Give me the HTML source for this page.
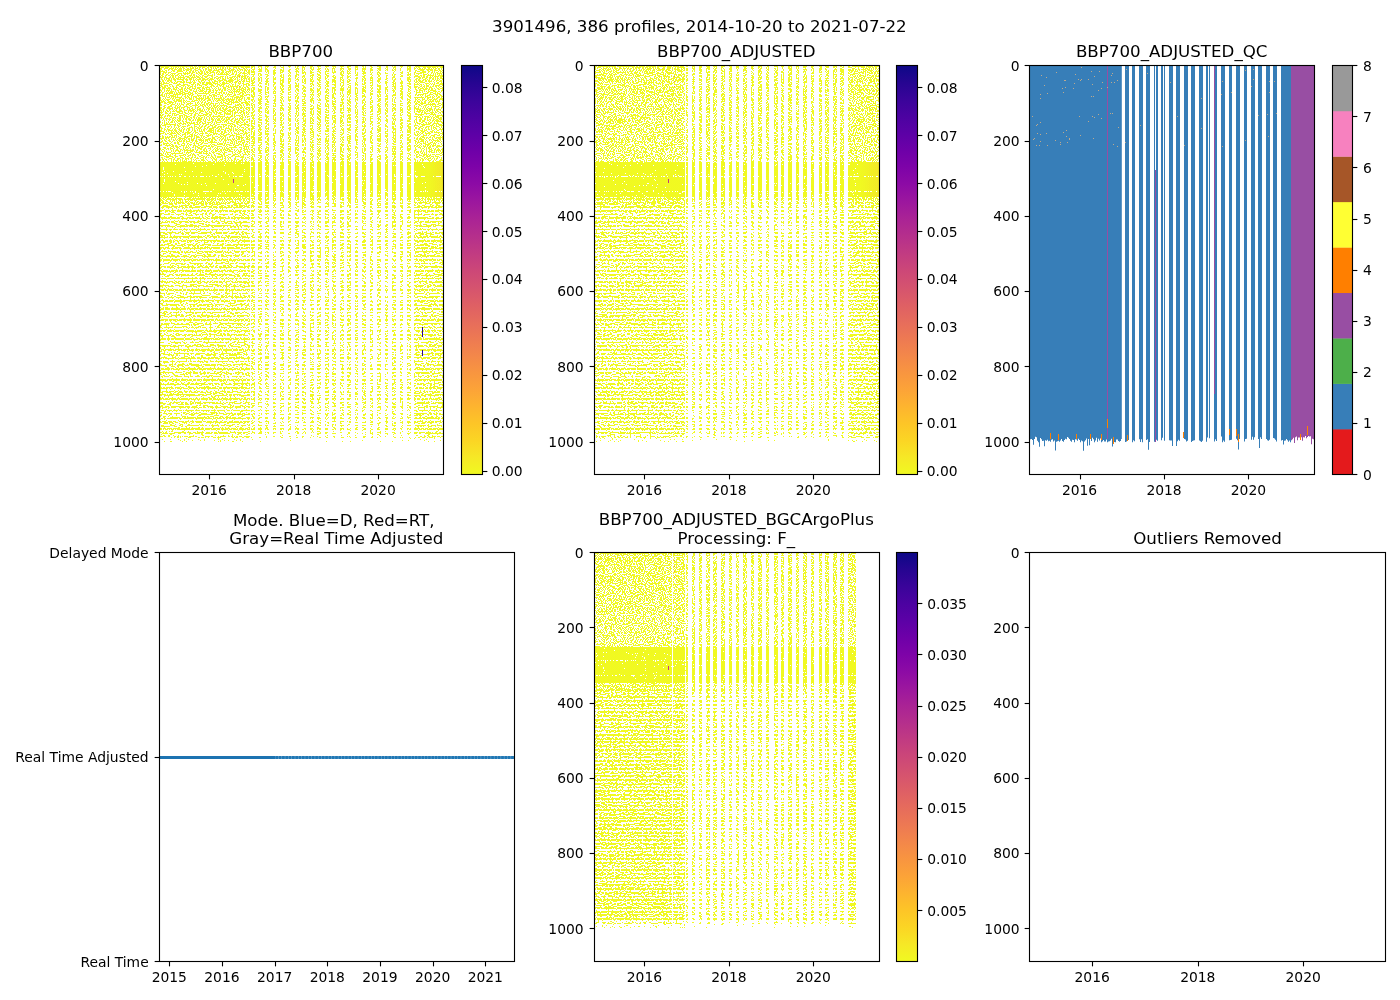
<!DOCTYPE html><html><head><meta charset="utf-8"><title>3901496 BBP700</title><style>html,body{margin:0;padding:0;background:#fff;}svg{display:block;}text{font-family:"DejaVu Sans","Liberation Sans",sans-serif;fill:#000;}</style></head><body>
<svg width="1400" height="1000" viewBox="0 0 1400 1000">
<defs>
<linearGradient id="plasma" x1="0" y1="1" x2="0" y2="0"><stop offset="0.0000" stop-color="#f0f921"/><stop offset="0.0417" stop-color="#f6e826"/><stop offset="0.0833" stop-color="#fbd524"/><stop offset="0.1250" stop-color="#fdc527"/><stop offset="0.1667" stop-color="#fdb42f"/><stop offset="0.2083" stop-color="#fca338"/><stop offset="0.2500" stop-color="#f89540"/><stop offset="0.2917" stop-color="#f3874a"/><stop offset="0.3333" stop-color="#ed7953"/><stop offset="0.3750" stop-color="#e66c5c"/><stop offset="0.4167" stop-color="#de5f65"/><stop offset="0.4583" stop-color="#d5536f"/><stop offset="0.5000" stop-color="#cc4778"/><stop offset="0.5417" stop-color="#c13b82"/><stop offset="0.5833" stop-color="#b52f8c"/><stop offset="0.6250" stop-color="#aa2395"/><stop offset="0.6667" stop-color="#9c179e"/><stop offset="0.7083" stop-color="#8d0ba5"/><stop offset="0.7500" stop-color="#7e03a8"/><stop offset="0.7917" stop-color="#6e00a8"/><stop offset="0.8333" stop-color="#5c01a6"/><stop offset="0.8750" stop-color="#4c02a1"/><stop offset="0.9167" stop-color="#3a049a"/><stop offset="0.9583" stop-color="#260591"/><stop offset="1.0000" stop-color="#0d0887"/></linearGradient>
<filter id="dots" x="0" y="0" width="1400" height="1000" filterUnits="userSpaceOnUse" color-interpolation-filters="sRGB"><feTurbulence type="fractalNoise" baseFrequency="0.9" numOctaves="1" seed="3" result="t"/><feColorMatrix in="t" type="matrix" values="0 0 0 0 0  0 0 0 0 0  0 0 0 0 0  0 0 0 1 0" result="u"/><feComposite in="SourceAlpha" in2="u" operator="arithmetic" k1="0" k2="255" k3="-255" k4="0" result="m"/><feColorMatrix in="SourceGraphic" type="matrix" values="1 0 0 0 0  0 1 0 0 0  0 0 1 0 0  0 0 0 0 1" result="c"/><feComposite in="c" in2="m" operator="in"/></filter><filter id="dots2" x="0" y="0" width="1400" height="1000" filterUnits="userSpaceOnUse" color-interpolation-filters="sRGB"><feTurbulence type="fractalNoise" baseFrequency="0.5 0.9" numOctaves="1" seed="5" result="t"/><feColorMatrix in="t" type="matrix" values="0 0 0 0 0  0 0 0 0 0  0 0 0 0 0  0 0 0 1 0" result="u"/><feComposite in="SourceAlpha" in2="u" operator="arithmetic" k1="0" k2="255" k3="-255" k4="0" result="m"/><feColorMatrix in="SourceGraphic" type="matrix" values="1 0 0 0 0  0 1 0 0 0  0 0 1 0 0  0 0 0 0 1" result="c"/><feComposite in="c" in2="m" operator="in"/></filter><linearGradient id="gB1" gradientUnits="userSpaceOnUse" x1="0" y1="65.5" x2="0" y2="474.5"><stop offset="0.0000" stop-color="#f0f921" stop-opacity="0.657"/><stop offset="0.0037" stop-color="#f0f921" stop-opacity="0.657"/><stop offset="0.0037" stop-color="#f0f921" stop-opacity="0.524"/><stop offset="0.2311" stop-color="#f0f921" stop-opacity="0.499"/><stop offset="0.2311" stop-color="#f0f921" stop-opacity="0.496"/><stop offset="0.2359" stop-color="#f0f921" stop-opacity="0.496"/><stop offset="0.2359" stop-color="#f0f921" stop-opacity="0.711"/><stop offset="0.2702" stop-color="#f0f921" stop-opacity="0.711"/><stop offset="0.2702" stop-color="#f0f921" stop-opacity="0.536"/><stop offset="0.2726" stop-color="#f0f921" stop-opacity="0.536"/><stop offset="0.2726" stop-color="#f0f921" stop-opacity="0.711"/><stop offset="0.3068" stop-color="#f0f921" stop-opacity="0.711"/><stop offset="0.3068" stop-color="#f0f921" stop-opacity="0.536"/><stop offset="0.3093" stop-color="#f0f921" stop-opacity="0.536"/><stop offset="0.3093" stop-color="#f0f921" stop-opacity="0.711"/><stop offset="0.3215" stop-color="#f0f921" stop-opacity="0.711"/><stop offset="0.3215" stop-color="#f0f921" stop-opacity="0.496"/><stop offset="0.3251" stop-color="#f0f921" stop-opacity="0.496"/><stop offset="0.3251" stop-color="#f0f921" stop-opacity="0.572"/><stop offset="0.3295" stop-color="#f0f921" stop-opacity="0.572"/><stop offset="0.3295" stop-color="#f0f921" stop-opacity="0.496"/><stop offset="0.3343" stop-color="#f0f921" stop-opacity="0.496"/><stop offset="0.3343" stop-color="#f0f921" stop-opacity="0.571"/><stop offset="0.3387" stop-color="#f0f921" stop-opacity="0.571"/><stop offset="0.3387" stop-color="#f0f921" stop-opacity="0.496"/><stop offset="0.3435" stop-color="#f0f921" stop-opacity="0.496"/><stop offset="0.3435" stop-color="#f0f921" stop-opacity="0.571"/><stop offset="0.3479" stop-color="#f0f921" stop-opacity="0.571"/><stop offset="0.3479" stop-color="#f0f921" stop-opacity="0.419"/><stop offset="0.3527" stop-color="#f0f921" stop-opacity="0.419"/><stop offset="0.3527" stop-color="#f0f921" stop-opacity="0.564"/><stop offset="0.3571" stop-color="#f0f921" stop-opacity="0.564"/><stop offset="0.3571" stop-color="#f0f921" stop-opacity="0.419"/><stop offset="0.3619" stop-color="#f0f921" stop-opacity="0.419"/><stop offset="0.3619" stop-color="#f0f921" stop-opacity="0.564"/><stop offset="0.3663" stop-color="#f0f921" stop-opacity="0.564"/><stop offset="0.3663" stop-color="#f0f921" stop-opacity="0.418"/><stop offset="0.3711" stop-color="#f0f921" stop-opacity="0.418"/><stop offset="0.3711" stop-color="#f0f921" stop-opacity="0.564"/><stop offset="0.3756" stop-color="#f0f921" stop-opacity="0.564"/><stop offset="0.3756" stop-color="#f0f921" stop-opacity="0.418"/><stop offset="0.3804" stop-color="#f0f921" stop-opacity="0.418"/><stop offset="0.3804" stop-color="#f0f921" stop-opacity="0.564"/><stop offset="0.3848" stop-color="#f0f921" stop-opacity="0.564"/><stop offset="0.3848" stop-color="#f0f921" stop-opacity="0.418"/><stop offset="0.3896" stop-color="#f0f921" stop-opacity="0.418"/><stop offset="0.3896" stop-color="#f0f921" stop-opacity="0.563"/><stop offset="0.3940" stop-color="#f0f921" stop-opacity="0.563"/><stop offset="0.3940" stop-color="#f0f921" stop-opacity="0.418"/><stop offset="0.3988" stop-color="#f0f921" stop-opacity="0.418"/><stop offset="0.3988" stop-color="#f0f921" stop-opacity="0.563"/><stop offset="0.4032" stop-color="#f0f921" stop-opacity="0.563"/><stop offset="0.4032" stop-color="#f0f921" stop-opacity="0.418"/><stop offset="0.4080" stop-color="#f0f921" stop-opacity="0.418"/><stop offset="0.4080" stop-color="#f0f921" stop-opacity="0.563"/><stop offset="0.4124" stop-color="#f0f921" stop-opacity="0.563"/><stop offset="0.4124" stop-color="#f0f921" stop-opacity="0.418"/><stop offset="0.4172" stop-color="#f0f921" stop-opacity="0.418"/><stop offset="0.4172" stop-color="#f0f921" stop-opacity="0.563"/><stop offset="0.4216" stop-color="#f0f921" stop-opacity="0.563"/><stop offset="0.4216" stop-color="#f0f921" stop-opacity="0.418"/><stop offset="0.4265" stop-color="#f0f921" stop-opacity="0.418"/><stop offset="0.4265" stop-color="#f0f921" stop-opacity="0.563"/><stop offset="0.4309" stop-color="#f0f921" stop-opacity="0.563"/><stop offset="0.4309" stop-color="#f0f921" stop-opacity="0.418"/><stop offset="0.4357" stop-color="#f0f921" stop-opacity="0.418"/><stop offset="0.4357" stop-color="#f0f921" stop-opacity="0.562"/><stop offset="0.4401" stop-color="#f0f921" stop-opacity="0.562"/><stop offset="0.4401" stop-color="#f0f921" stop-opacity="0.418"/><stop offset="0.4449" stop-color="#f0f921" stop-opacity="0.418"/><stop offset="0.4449" stop-color="#f0f921" stop-opacity="0.562"/><stop offset="0.4493" stop-color="#f0f921" stop-opacity="0.562"/><stop offset="0.4493" stop-color="#f0f921" stop-opacity="0.418"/><stop offset="0.4541" stop-color="#f0f921" stop-opacity="0.418"/><stop offset="0.4541" stop-color="#f0f921" stop-opacity="0.562"/><stop offset="0.4585" stop-color="#f0f921" stop-opacity="0.562"/><stop offset="0.4585" stop-color="#f0f921" stop-opacity="0.418"/><stop offset="0.4633" stop-color="#f0f921" stop-opacity="0.418"/><stop offset="0.4633" stop-color="#f0f921" stop-opacity="0.562"/><stop offset="0.4677" stop-color="#f0f921" stop-opacity="0.562"/><stop offset="0.4677" stop-color="#f0f921" stop-opacity="0.418"/><stop offset="0.4725" stop-color="#f0f921" stop-opacity="0.418"/><stop offset="0.4725" stop-color="#f0f921" stop-opacity="0.562"/><stop offset="0.4769" stop-color="#f0f921" stop-opacity="0.562"/><stop offset="0.4769" stop-color="#f0f921" stop-opacity="0.417"/><stop offset="0.4818" stop-color="#f0f921" stop-opacity="0.417"/><stop offset="0.4818" stop-color="#f0f921" stop-opacity="0.561"/><stop offset="0.4862" stop-color="#f0f921" stop-opacity="0.561"/><stop offset="0.4862" stop-color="#f0f921" stop-opacity="0.417"/><stop offset="0.4910" stop-color="#f0f921" stop-opacity="0.417"/><stop offset="0.4910" stop-color="#f0f921" stop-opacity="0.561"/><stop offset="0.4954" stop-color="#f0f921" stop-opacity="0.561"/><stop offset="0.4954" stop-color="#f0f921" stop-opacity="0.417"/><stop offset="0.5002" stop-color="#f0f921" stop-opacity="0.417"/><stop offset="0.5002" stop-color="#f0f921" stop-opacity="0.561"/><stop offset="0.5046" stop-color="#f0f921" stop-opacity="0.561"/><stop offset="0.5046" stop-color="#f0f921" stop-opacity="0.417"/><stop offset="0.5094" stop-color="#f0f921" stop-opacity="0.417"/><stop offset="0.5094" stop-color="#f0f921" stop-opacity="0.561"/><stop offset="0.5138" stop-color="#f0f921" stop-opacity="0.561"/><stop offset="0.5138" stop-color="#f0f921" stop-opacity="0.417"/><stop offset="0.5186" stop-color="#f0f921" stop-opacity="0.417"/><stop offset="0.5186" stop-color="#f0f921" stop-opacity="0.561"/><stop offset="0.5230" stop-color="#f0f921" stop-opacity="0.561"/><stop offset="0.5230" stop-color="#f0f921" stop-opacity="0.417"/><stop offset="0.5278" stop-color="#f0f921" stop-opacity="0.417"/><stop offset="0.5278" stop-color="#f0f921" stop-opacity="0.561"/><stop offset="0.5322" stop-color="#f0f921" stop-opacity="0.561"/><stop offset="0.5322" stop-color="#f0f921" stop-opacity="0.417"/><stop offset="0.5371" stop-color="#f0f921" stop-opacity="0.417"/><stop offset="0.5371" stop-color="#f0f921" stop-opacity="0.560"/><stop offset="0.5415" stop-color="#f0f921" stop-opacity="0.560"/><stop offset="0.5415" stop-color="#f0f921" stop-opacity="0.417"/><stop offset="0.5463" stop-color="#f0f921" stop-opacity="0.417"/><stop offset="0.5463" stop-color="#f0f921" stop-opacity="0.560"/><stop offset="0.5507" stop-color="#f0f921" stop-opacity="0.560"/><stop offset="0.5507" stop-color="#f0f921" stop-opacity="0.417"/><stop offset="0.5555" stop-color="#f0f921" stop-opacity="0.417"/><stop offset="0.5555" stop-color="#f0f921" stop-opacity="0.560"/><stop offset="0.5599" stop-color="#f0f921" stop-opacity="0.560"/><stop offset="0.5599" stop-color="#f0f921" stop-opacity="0.417"/><stop offset="0.5647" stop-color="#f0f921" stop-opacity="0.417"/><stop offset="0.5647" stop-color="#f0f921" stop-opacity="0.560"/><stop offset="0.5691" stop-color="#f0f921" stop-opacity="0.560"/><stop offset="0.5691" stop-color="#f0f921" stop-opacity="0.417"/><stop offset="0.5739" stop-color="#f0f921" stop-opacity="0.417"/><stop offset="0.5739" stop-color="#f0f921" stop-opacity="0.560"/><stop offset="0.5783" stop-color="#f0f921" stop-opacity="0.560"/><stop offset="0.5783" stop-color="#f0f921" stop-opacity="0.416"/><stop offset="0.5832" stop-color="#f0f921" stop-opacity="0.416"/><stop offset="0.5832" stop-color="#f0f921" stop-opacity="0.560"/><stop offset="0.5876" stop-color="#f0f921" stop-opacity="0.560"/><stop offset="0.5876" stop-color="#f0f921" stop-opacity="0.416"/><stop offset="0.5924" stop-color="#f0f921" stop-opacity="0.416"/><stop offset="0.5924" stop-color="#f0f921" stop-opacity="0.559"/><stop offset="0.5968" stop-color="#f0f921" stop-opacity="0.559"/><stop offset="0.5968" stop-color="#f0f921" stop-opacity="0.416"/><stop offset="0.6016" stop-color="#f0f921" stop-opacity="0.416"/><stop offset="0.6016" stop-color="#f0f921" stop-opacity="0.559"/><stop offset="0.6060" stop-color="#f0f921" stop-opacity="0.559"/><stop offset="0.6060" stop-color="#f0f921" stop-opacity="0.416"/><stop offset="0.6108" stop-color="#f0f921" stop-opacity="0.416"/><stop offset="0.6108" stop-color="#f0f921" stop-opacity="0.559"/><stop offset="0.6152" stop-color="#f0f921" stop-opacity="0.559"/><stop offset="0.6152" stop-color="#f0f921" stop-opacity="0.416"/><stop offset="0.6200" stop-color="#f0f921" stop-opacity="0.416"/><stop offset="0.6200" stop-color="#f0f921" stop-opacity="0.559"/><stop offset="0.6244" stop-color="#f0f921" stop-opacity="0.559"/><stop offset="0.6244" stop-color="#f0f921" stop-opacity="0.416"/><stop offset="0.6292" stop-color="#f0f921" stop-opacity="0.416"/><stop offset="0.6292" stop-color="#f0f921" stop-opacity="0.559"/><stop offset="0.6336" stop-color="#f0f921" stop-opacity="0.559"/><stop offset="0.6336" stop-color="#f0f921" stop-opacity="0.416"/><stop offset="0.6385" stop-color="#f0f921" stop-opacity="0.416"/><stop offset="0.6385" stop-color="#f0f921" stop-opacity="0.559"/><stop offset="0.6429" stop-color="#f0f921" stop-opacity="0.559"/><stop offset="0.6429" stop-color="#f0f921" stop-opacity="0.416"/><stop offset="0.6477" stop-color="#f0f921" stop-opacity="0.416"/><stop offset="0.6477" stop-color="#f0f921" stop-opacity="0.558"/><stop offset="0.6521" stop-color="#f0f921" stop-opacity="0.558"/><stop offset="0.6521" stop-color="#f0f921" stop-opacity="0.416"/><stop offset="0.6569" stop-color="#f0f921" stop-opacity="0.416"/><stop offset="0.6569" stop-color="#f0f921" stop-opacity="0.558"/><stop offset="0.6613" stop-color="#f0f921" stop-opacity="0.558"/><stop offset="0.6613" stop-color="#f0f921" stop-opacity="0.416"/><stop offset="0.6661" stop-color="#f0f921" stop-opacity="0.416"/><stop offset="0.6661" stop-color="#f0f921" stop-opacity="0.558"/><stop offset="0.6705" stop-color="#f0f921" stop-opacity="0.558"/><stop offset="0.6705" stop-color="#f0f921" stop-opacity="0.416"/><stop offset="0.6753" stop-color="#f0f921" stop-opacity="0.416"/><stop offset="0.6753" stop-color="#f0f921" stop-opacity="0.558"/><stop offset="0.6797" stop-color="#f0f921" stop-opacity="0.558"/><stop offset="0.6797" stop-color="#f0f921" stop-opacity="0.416"/><stop offset="0.6845" stop-color="#f0f921" stop-opacity="0.416"/><stop offset="0.6845" stop-color="#f0f921" stop-opacity="0.558"/><stop offset="0.6889" stop-color="#f0f921" stop-opacity="0.558"/><stop offset="0.6889" stop-color="#f0f921" stop-opacity="0.415"/><stop offset="0.6938" stop-color="#f0f921" stop-opacity="0.415"/><stop offset="0.6938" stop-color="#f0f921" stop-opacity="0.558"/><stop offset="0.6982" stop-color="#f0f921" stop-opacity="0.558"/><stop offset="0.6982" stop-color="#f0f921" stop-opacity="0.415"/><stop offset="0.7030" stop-color="#f0f921" stop-opacity="0.415"/><stop offset="0.7030" stop-color="#f0f921" stop-opacity="0.558"/><stop offset="0.7074" stop-color="#f0f921" stop-opacity="0.558"/><stop offset="0.7074" stop-color="#f0f921" stop-opacity="0.415"/><stop offset="0.7122" stop-color="#f0f921" stop-opacity="0.415"/><stop offset="0.7122" stop-color="#f0f921" stop-opacity="0.557"/><stop offset="0.7166" stop-color="#f0f921" stop-opacity="0.557"/><stop offset="0.7166" stop-color="#f0f921" stop-opacity="0.415"/><stop offset="0.7214" stop-color="#f0f921" stop-opacity="0.415"/><stop offset="0.7214" stop-color="#f0f921" stop-opacity="0.557"/><stop offset="0.7258" stop-color="#f0f921" stop-opacity="0.557"/><stop offset="0.7258" stop-color="#f0f921" stop-opacity="0.415"/><stop offset="0.7306" stop-color="#f0f921" stop-opacity="0.415"/><stop offset="0.7306" stop-color="#f0f921" stop-opacity="0.557"/><stop offset="0.7350" stop-color="#f0f921" stop-opacity="0.557"/><stop offset="0.7350" stop-color="#f0f921" stop-opacity="0.415"/><stop offset="0.7399" stop-color="#f0f921" stop-opacity="0.415"/><stop offset="0.7399" stop-color="#f0f921" stop-opacity="0.557"/><stop offset="0.7443" stop-color="#f0f921" stop-opacity="0.557"/><stop offset="0.7443" stop-color="#f0f921" stop-opacity="0.415"/><stop offset="0.7491" stop-color="#f0f921" stop-opacity="0.415"/><stop offset="0.7491" stop-color="#f0f921" stop-opacity="0.557"/><stop offset="0.7535" stop-color="#f0f921" stop-opacity="0.557"/><stop offset="0.7535" stop-color="#f0f921" stop-opacity="0.415"/><stop offset="0.7583" stop-color="#f0f921" stop-opacity="0.415"/><stop offset="0.7583" stop-color="#f0f921" stop-opacity="0.557"/><stop offset="0.7627" stop-color="#f0f921" stop-opacity="0.557"/><stop offset="0.7627" stop-color="#f0f921" stop-opacity="0.415"/><stop offset="0.7675" stop-color="#f0f921" stop-opacity="0.415"/><stop offset="0.7675" stop-color="#f0f921" stop-opacity="0.557"/><stop offset="0.7719" stop-color="#f0f921" stop-opacity="0.557"/><stop offset="0.7719" stop-color="#f0f921" stop-opacity="0.415"/><stop offset="0.7767" stop-color="#f0f921" stop-opacity="0.415"/><stop offset="0.7767" stop-color="#f0f921" stop-opacity="0.556"/><stop offset="0.7811" stop-color="#f0f921" stop-opacity="0.556"/><stop offset="0.7811" stop-color="#f0f921" stop-opacity="0.415"/><stop offset="0.7859" stop-color="#f0f921" stop-opacity="0.415"/><stop offset="0.7859" stop-color="#f0f921" stop-opacity="0.556"/><stop offset="0.7903" stop-color="#f0f921" stop-opacity="0.556"/><stop offset="0.7903" stop-color="#f0f921" stop-opacity="0.415"/><stop offset="0.7952" stop-color="#f0f921" stop-opacity="0.415"/><stop offset="0.7952" stop-color="#f0f921" stop-opacity="0.556"/><stop offset="0.7996" stop-color="#f0f921" stop-opacity="0.556"/><stop offset="0.7996" stop-color="#f0f921" stop-opacity="0.414"/><stop offset="0.8044" stop-color="#f0f921" stop-opacity="0.414"/><stop offset="0.8044" stop-color="#f0f921" stop-opacity="0.556"/><stop offset="0.8088" stop-color="#f0f921" stop-opacity="0.556"/><stop offset="0.8088" stop-color="#f0f921" stop-opacity="0.414"/><stop offset="0.8136" stop-color="#f0f921" stop-opacity="0.414"/><stop offset="0.8136" stop-color="#f0f921" stop-opacity="0.556"/><stop offset="0.8180" stop-color="#f0f921" stop-opacity="0.556"/><stop offset="0.8180" stop-color="#f0f921" stop-opacity="0.414"/><stop offset="0.8228" stop-color="#f0f921" stop-opacity="0.414"/><stop offset="0.8228" stop-color="#f0f921" stop-opacity="0.556"/><stop offset="0.8272" stop-color="#f0f921" stop-opacity="0.556"/><stop offset="0.8272" stop-color="#f0f921" stop-opacity="0.414"/><stop offset="0.8320" stop-color="#f0f921" stop-opacity="0.414"/><stop offset="0.8320" stop-color="#f0f921" stop-opacity="0.556"/><stop offset="0.8364" stop-color="#f0f921" stop-opacity="0.556"/><stop offset="0.8364" stop-color="#f0f921" stop-opacity="0.414"/><stop offset="0.8412" stop-color="#f0f921" stop-opacity="0.414"/><stop offset="0.8412" stop-color="#f0f921" stop-opacity="0.555"/><stop offset="0.8456" stop-color="#f0f921" stop-opacity="0.555"/><stop offset="0.8456" stop-color="#f0f921" stop-opacity="0.414"/><stop offset="0.8505" stop-color="#f0f921" stop-opacity="0.414"/><stop offset="0.8505" stop-color="#f0f921" stop-opacity="0.555"/><stop offset="0.8549" stop-color="#f0f921" stop-opacity="0.555"/><stop offset="0.8549" stop-color="#f0f921" stop-opacity="0.414"/><stop offset="0.8597" stop-color="#f0f921" stop-opacity="0.414"/><stop offset="0.8597" stop-color="#f0f921" stop-opacity="0.555"/><stop offset="0.8641" stop-color="#f0f921" stop-opacity="0.555"/><stop offset="0.8641" stop-color="#f0f921" stop-opacity="0.414"/><stop offset="0.8689" stop-color="#f0f921" stop-opacity="0.414"/><stop offset="0.8689" stop-color="#f0f921" stop-opacity="0.555"/><stop offset="0.8733" stop-color="#f0f921" stop-opacity="0.555"/><stop offset="0.8733" stop-color="#f0f921" stop-opacity="0.414"/><stop offset="0.8781" stop-color="#f0f921" stop-opacity="0.414"/><stop offset="0.8781" stop-color="#f0f921" stop-opacity="0.555"/><stop offset="0.8825" stop-color="#f0f921" stop-opacity="0.555"/><stop offset="0.8825" stop-color="#f0f921" stop-opacity="0.414"/><stop offset="0.8873" stop-color="#f0f921" stop-opacity="0.414"/><stop offset="0.8873" stop-color="#f0f921" stop-opacity="0.555"/><stop offset="0.8917" stop-color="#f0f921" stop-opacity="0.555"/><stop offset="0.8917" stop-color="#f0f921" stop-opacity="0.414"/><stop offset="0.8966" stop-color="#f0f921" stop-opacity="0.414"/><stop offset="0.8966" stop-color="#f0f921" stop-opacity="0.555"/><stop offset="0.9010" stop-color="#f0f921" stop-opacity="0.555"/><stop offset="0.9010" stop-color="#f0f921" stop-opacity="0.375"/><stop offset="0.9058" stop-color="#f0f921" stop-opacity="0.375"/><stop offset="0.9058" stop-color="#f0f921" stop-opacity="0.486"/><stop offset="0.9102" stop-color="#f0f921" stop-opacity="0.486"/><stop offset="0.9102" stop-color="#f0f921" stop-opacity="0.314"/><stop offset="0.9150" stop-color="#f0f921" stop-opacity="0.314"/><stop offset="0.9150" stop-color="#f0f921" stop-opacity="0.382"/><stop offset="0.9194" stop-color="#f0f921" stop-opacity="0.382"/><stop offset="0.9194" stop-color="#f0f921" stop-opacity="0.000"/><stop offset="0.9196" stop-color="#f0f921" stop-opacity="0.000"/></linearGradient><linearGradient id="gS1" gradientUnits="userSpaceOnUse" x1="0" y1="65.5" x2="0" y2="474.5"><stop offset="0.0000" stop-color="#f0f921" stop-opacity="0.657"/><stop offset="0.0037" stop-color="#f0f921" stop-opacity="0.657"/><stop offset="0.0037" stop-color="#f0f921" stop-opacity="0.536"/><stop offset="0.2311" stop-color="#f0f921" stop-opacity="0.536"/><stop offset="0.2311" stop-color="#f0f921" stop-opacity="0.496"/><stop offset="0.2359" stop-color="#f0f921" stop-opacity="0.496"/><stop offset="0.2359" stop-color="#f0f921" stop-opacity="0.692"/><stop offset="0.2702" stop-color="#f0f921" stop-opacity="0.692"/><stop offset="0.2702" stop-color="#f0f921" stop-opacity="0.536"/><stop offset="0.2726" stop-color="#f0f921" stop-opacity="0.536"/><stop offset="0.2726" stop-color="#f0f921" stop-opacity="0.692"/><stop offset="0.3068" stop-color="#f0f921" stop-opacity="0.692"/><stop offset="0.3068" stop-color="#f0f921" stop-opacity="0.536"/><stop offset="0.3093" stop-color="#f0f921" stop-opacity="0.536"/><stop offset="0.3093" stop-color="#f0f921" stop-opacity="0.692"/><stop offset="0.3215" stop-color="#f0f921" stop-opacity="0.692"/><stop offset="0.3215" stop-color="#f0f921" stop-opacity="0.496"/><stop offset="0.3251" stop-color="#f0f921" stop-opacity="0.496"/><stop offset="0.3251" stop-color="#f0f921" stop-opacity="0.572"/><stop offset="0.3295" stop-color="#f0f921" stop-opacity="0.572"/><stop offset="0.3295" stop-color="#f0f921" stop-opacity="0.496"/><stop offset="0.3343" stop-color="#f0f921" stop-opacity="0.496"/><stop offset="0.3343" stop-color="#f0f921" stop-opacity="0.571"/><stop offset="0.3387" stop-color="#f0f921" stop-opacity="0.571"/><stop offset="0.3387" stop-color="#f0f921" stop-opacity="0.495"/><stop offset="0.3435" stop-color="#f0f921" stop-opacity="0.495"/><stop offset="0.3435" stop-color="#f0f921" stop-opacity="0.571"/><stop offset="0.3479" stop-color="#f0f921" stop-opacity="0.571"/><stop offset="0.3479" stop-color="#f0f921" stop-opacity="0.426"/><stop offset="0.3527" stop-color="#f0f921" stop-opacity="0.426"/><stop offset="0.3527" stop-color="#f0f921" stop-opacity="0.563"/><stop offset="0.3571" stop-color="#f0f921" stop-opacity="0.563"/><stop offset="0.3571" stop-color="#f0f921" stop-opacity="0.426"/><stop offset="0.3619" stop-color="#f0f921" stop-opacity="0.426"/><stop offset="0.3619" stop-color="#f0f921" stop-opacity="0.562"/><stop offset="0.3663" stop-color="#f0f921" stop-opacity="0.562"/><stop offset="0.3663" stop-color="#f0f921" stop-opacity="0.426"/><stop offset="0.3711" stop-color="#f0f921" stop-opacity="0.426"/><stop offset="0.3711" stop-color="#f0f921" stop-opacity="0.562"/><stop offset="0.3756" stop-color="#f0f921" stop-opacity="0.562"/><stop offset="0.3756" stop-color="#f0f921" stop-opacity="0.426"/><stop offset="0.3804" stop-color="#f0f921" stop-opacity="0.426"/><stop offset="0.3804" stop-color="#f0f921" stop-opacity="0.561"/><stop offset="0.3848" stop-color="#f0f921" stop-opacity="0.561"/><stop offset="0.3848" stop-color="#f0f921" stop-opacity="0.425"/><stop offset="0.3896" stop-color="#f0f921" stop-opacity="0.425"/><stop offset="0.3896" stop-color="#f0f921" stop-opacity="0.561"/><stop offset="0.3940" stop-color="#f0f921" stop-opacity="0.561"/><stop offset="0.3940" stop-color="#f0f921" stop-opacity="0.425"/><stop offset="0.3988" stop-color="#f0f921" stop-opacity="0.425"/><stop offset="0.3988" stop-color="#f0f921" stop-opacity="0.560"/><stop offset="0.4032" stop-color="#f0f921" stop-opacity="0.560"/><stop offset="0.4032" stop-color="#f0f921" stop-opacity="0.425"/><stop offset="0.4080" stop-color="#f0f921" stop-opacity="0.425"/><stop offset="0.4080" stop-color="#f0f921" stop-opacity="0.560"/><stop offset="0.4124" stop-color="#f0f921" stop-opacity="0.560"/><stop offset="0.4124" stop-color="#f0f921" stop-opacity="0.425"/><stop offset="0.4172" stop-color="#f0f921" stop-opacity="0.425"/><stop offset="0.4172" stop-color="#f0f921" stop-opacity="0.559"/><stop offset="0.4216" stop-color="#f0f921" stop-opacity="0.559"/><stop offset="0.4216" stop-color="#f0f921" stop-opacity="0.425"/><stop offset="0.4265" stop-color="#f0f921" stop-opacity="0.425"/><stop offset="0.4265" stop-color="#f0f921" stop-opacity="0.559"/><stop offset="0.4309" stop-color="#f0f921" stop-opacity="0.559"/><stop offset="0.4309" stop-color="#f0f921" stop-opacity="0.425"/><stop offset="0.4357" stop-color="#f0f921" stop-opacity="0.425"/><stop offset="0.4357" stop-color="#f0f921" stop-opacity="0.558"/><stop offset="0.4401" stop-color="#f0f921" stop-opacity="0.558"/><stop offset="0.4401" stop-color="#f0f921" stop-opacity="0.424"/><stop offset="0.4449" stop-color="#f0f921" stop-opacity="0.424"/><stop offset="0.4449" stop-color="#f0f921" stop-opacity="0.558"/><stop offset="0.4493" stop-color="#f0f921" stop-opacity="0.558"/><stop offset="0.4493" stop-color="#f0f921" stop-opacity="0.424"/><stop offset="0.4541" stop-color="#f0f921" stop-opacity="0.424"/><stop offset="0.4541" stop-color="#f0f921" stop-opacity="0.557"/><stop offset="0.4585" stop-color="#f0f921" stop-opacity="0.557"/><stop offset="0.4585" stop-color="#f0f921" stop-opacity="0.424"/><stop offset="0.4633" stop-color="#f0f921" stop-opacity="0.424"/><stop offset="0.4633" stop-color="#f0f921" stop-opacity="0.557"/><stop offset="0.4677" stop-color="#f0f921" stop-opacity="0.557"/><stop offset="0.4677" stop-color="#f0f921" stop-opacity="0.424"/><stop offset="0.4725" stop-color="#f0f921" stop-opacity="0.424"/><stop offset="0.4725" stop-color="#f0f921" stop-opacity="0.557"/><stop offset="0.4769" stop-color="#f0f921" stop-opacity="0.557"/><stop offset="0.4769" stop-color="#f0f921" stop-opacity="0.424"/><stop offset="0.4818" stop-color="#f0f921" stop-opacity="0.424"/><stop offset="0.4818" stop-color="#f0f921" stop-opacity="0.556"/><stop offset="0.4862" stop-color="#f0f921" stop-opacity="0.556"/><stop offset="0.4862" stop-color="#f0f921" stop-opacity="0.423"/><stop offset="0.4910" stop-color="#f0f921" stop-opacity="0.423"/><stop offset="0.4910" stop-color="#f0f921" stop-opacity="0.556"/><stop offset="0.4954" stop-color="#f0f921" stop-opacity="0.556"/><stop offset="0.4954" stop-color="#f0f921" stop-opacity="0.423"/><stop offset="0.5002" stop-color="#f0f921" stop-opacity="0.423"/><stop offset="0.5002" stop-color="#f0f921" stop-opacity="0.555"/><stop offset="0.5046" stop-color="#f0f921" stop-opacity="0.555"/><stop offset="0.5046" stop-color="#f0f921" stop-opacity="0.423"/><stop offset="0.5094" stop-color="#f0f921" stop-opacity="0.423"/><stop offset="0.5094" stop-color="#f0f921" stop-opacity="0.555"/><stop offset="0.5138" stop-color="#f0f921" stop-opacity="0.555"/><stop offset="0.5138" stop-color="#f0f921" stop-opacity="0.423"/><stop offset="0.5186" stop-color="#f0f921" stop-opacity="0.423"/><stop offset="0.5186" stop-color="#f0f921" stop-opacity="0.554"/><stop offset="0.5230" stop-color="#f0f921" stop-opacity="0.554"/><stop offset="0.5230" stop-color="#f0f921" stop-opacity="0.423"/><stop offset="0.5278" stop-color="#f0f921" stop-opacity="0.423"/><stop offset="0.5278" stop-color="#f0f921" stop-opacity="0.554"/><stop offset="0.5322" stop-color="#f0f921" stop-opacity="0.554"/><stop offset="0.5322" stop-color="#f0f921" stop-opacity="0.422"/><stop offset="0.5371" stop-color="#f0f921" stop-opacity="0.422"/><stop offset="0.5371" stop-color="#f0f921" stop-opacity="0.554"/><stop offset="0.5415" stop-color="#f0f921" stop-opacity="0.554"/><stop offset="0.5415" stop-color="#f0f921" stop-opacity="0.422"/><stop offset="0.5463" stop-color="#f0f921" stop-opacity="0.422"/><stop offset="0.5463" stop-color="#f0f921" stop-opacity="0.553"/><stop offset="0.5507" stop-color="#f0f921" stop-opacity="0.553"/><stop offset="0.5507" stop-color="#f0f921" stop-opacity="0.422"/><stop offset="0.5555" stop-color="#f0f921" stop-opacity="0.422"/><stop offset="0.5555" stop-color="#f0f921" stop-opacity="0.553"/><stop offset="0.5599" stop-color="#f0f921" stop-opacity="0.553"/><stop offset="0.5599" stop-color="#f0f921" stop-opacity="0.422"/><stop offset="0.5647" stop-color="#f0f921" stop-opacity="0.422"/><stop offset="0.5647" stop-color="#f0f921" stop-opacity="0.552"/><stop offset="0.5691" stop-color="#f0f921" stop-opacity="0.552"/><stop offset="0.5691" stop-color="#f0f921" stop-opacity="0.422"/><stop offset="0.5739" stop-color="#f0f921" stop-opacity="0.422"/><stop offset="0.5739" stop-color="#f0f921" stop-opacity="0.552"/><stop offset="0.5783" stop-color="#f0f921" stop-opacity="0.552"/><stop offset="0.5783" stop-color="#f0f921" stop-opacity="0.421"/><stop offset="0.5832" stop-color="#f0f921" stop-opacity="0.421"/><stop offset="0.5832" stop-color="#f0f921" stop-opacity="0.551"/><stop offset="0.5876" stop-color="#f0f921" stop-opacity="0.551"/><stop offset="0.5876" stop-color="#f0f921" stop-opacity="0.421"/><stop offset="0.5924" stop-color="#f0f921" stop-opacity="0.421"/><stop offset="0.5924" stop-color="#f0f921" stop-opacity="0.551"/><stop offset="0.5968" stop-color="#f0f921" stop-opacity="0.551"/><stop offset="0.5968" stop-color="#f0f921" stop-opacity="0.421"/><stop offset="0.6016" stop-color="#f0f921" stop-opacity="0.421"/><stop offset="0.6016" stop-color="#f0f921" stop-opacity="0.550"/><stop offset="0.6060" stop-color="#f0f921" stop-opacity="0.550"/><stop offset="0.6060" stop-color="#f0f921" stop-opacity="0.421"/><stop offset="0.6108" stop-color="#f0f921" stop-opacity="0.421"/><stop offset="0.6108" stop-color="#f0f921" stop-opacity="0.550"/><stop offset="0.6152" stop-color="#f0f921" stop-opacity="0.550"/><stop offset="0.6152" stop-color="#f0f921" stop-opacity="0.421"/><stop offset="0.6200" stop-color="#f0f921" stop-opacity="0.421"/><stop offset="0.6200" stop-color="#f0f921" stop-opacity="0.550"/><stop offset="0.6244" stop-color="#f0f921" stop-opacity="0.550"/><stop offset="0.6244" stop-color="#f0f921" stop-opacity="0.420"/><stop offset="0.6292" stop-color="#f0f921" stop-opacity="0.420"/><stop offset="0.6292" stop-color="#f0f921" stop-opacity="0.549"/><stop offset="0.6336" stop-color="#f0f921" stop-opacity="0.549"/><stop offset="0.6336" stop-color="#f0f921" stop-opacity="0.420"/><stop offset="0.6385" stop-color="#f0f921" stop-opacity="0.420"/><stop offset="0.6385" stop-color="#f0f921" stop-opacity="0.549"/><stop offset="0.6429" stop-color="#f0f921" stop-opacity="0.549"/><stop offset="0.6429" stop-color="#f0f921" stop-opacity="0.420"/><stop offset="0.6477" stop-color="#f0f921" stop-opacity="0.420"/><stop offset="0.6477" stop-color="#f0f921" stop-opacity="0.548"/><stop offset="0.6521" stop-color="#f0f921" stop-opacity="0.548"/><stop offset="0.6521" stop-color="#f0f921" stop-opacity="0.420"/><stop offset="0.6569" stop-color="#f0f921" stop-opacity="0.420"/><stop offset="0.6569" stop-color="#f0f921" stop-opacity="0.548"/><stop offset="0.6613" stop-color="#f0f921" stop-opacity="0.548"/><stop offset="0.6613" stop-color="#f0f921" stop-opacity="0.419"/><stop offset="0.6661" stop-color="#f0f921" stop-opacity="0.419"/><stop offset="0.6661" stop-color="#f0f921" stop-opacity="0.547"/><stop offset="0.6705" stop-color="#f0f921" stop-opacity="0.547"/><stop offset="0.6705" stop-color="#f0f921" stop-opacity="0.419"/><stop offset="0.6753" stop-color="#f0f921" stop-opacity="0.419"/><stop offset="0.6753" stop-color="#f0f921" stop-opacity="0.547"/><stop offset="0.6797" stop-color="#f0f921" stop-opacity="0.547"/><stop offset="0.6797" stop-color="#f0f921" stop-opacity="0.419"/><stop offset="0.6845" stop-color="#f0f921" stop-opacity="0.419"/><stop offset="0.6845" stop-color="#f0f921" stop-opacity="0.546"/><stop offset="0.6889" stop-color="#f0f921" stop-opacity="0.546"/><stop offset="0.6889" stop-color="#f0f921" stop-opacity="0.419"/><stop offset="0.6938" stop-color="#f0f921" stop-opacity="0.419"/><stop offset="0.6938" stop-color="#f0f921" stop-opacity="0.546"/><stop offset="0.6982" stop-color="#f0f921" stop-opacity="0.546"/><stop offset="0.6982" stop-color="#f0f921" stop-opacity="0.418"/><stop offset="0.7030" stop-color="#f0f921" stop-opacity="0.418"/><stop offset="0.7030" stop-color="#f0f921" stop-opacity="0.546"/><stop offset="0.7074" stop-color="#f0f921" stop-opacity="0.546"/><stop offset="0.7074" stop-color="#f0f921" stop-opacity="0.418"/><stop offset="0.7122" stop-color="#f0f921" stop-opacity="0.418"/><stop offset="0.7122" stop-color="#f0f921" stop-opacity="0.545"/><stop offset="0.7166" stop-color="#f0f921" stop-opacity="0.545"/><stop offset="0.7166" stop-color="#f0f921" stop-opacity="0.418"/><stop offset="0.7214" stop-color="#f0f921" stop-opacity="0.418"/><stop offset="0.7214" stop-color="#f0f921" stop-opacity="0.545"/><stop offset="0.7258" stop-color="#f0f921" stop-opacity="0.545"/><stop offset="0.7258" stop-color="#f0f921" stop-opacity="0.417"/><stop offset="0.7306" stop-color="#f0f921" stop-opacity="0.417"/><stop offset="0.7306" stop-color="#f0f921" stop-opacity="0.544"/><stop offset="0.7350" stop-color="#f0f921" stop-opacity="0.544"/><stop offset="0.7350" stop-color="#f0f921" stop-opacity="0.417"/><stop offset="0.7399" stop-color="#f0f921" stop-opacity="0.417"/><stop offset="0.7399" stop-color="#f0f921" stop-opacity="0.544"/><stop offset="0.7443" stop-color="#f0f921" stop-opacity="0.544"/><stop offset="0.7443" stop-color="#f0f921" stop-opacity="0.417"/><stop offset="0.7491" stop-color="#f0f921" stop-opacity="0.417"/><stop offset="0.7491" stop-color="#f0f921" stop-opacity="0.543"/><stop offset="0.7535" stop-color="#f0f921" stop-opacity="0.543"/><stop offset="0.7535" stop-color="#f0f921" stop-opacity="0.417"/><stop offset="0.7583" stop-color="#f0f921" stop-opacity="0.417"/><stop offset="0.7583" stop-color="#f0f921" stop-opacity="0.543"/><stop offset="0.7627" stop-color="#f0f921" stop-opacity="0.543"/><stop offset="0.7627" stop-color="#f0f921" stop-opacity="0.416"/><stop offset="0.7675" stop-color="#f0f921" stop-opacity="0.416"/><stop offset="0.7675" stop-color="#f0f921" stop-opacity="0.543"/><stop offset="0.7719" stop-color="#f0f921" stop-opacity="0.543"/><stop offset="0.7719" stop-color="#f0f921" stop-opacity="0.416"/><stop offset="0.7767" stop-color="#f0f921" stop-opacity="0.416"/><stop offset="0.7767" stop-color="#f0f921" stop-opacity="0.542"/><stop offset="0.7811" stop-color="#f0f921" stop-opacity="0.542"/><stop offset="0.7811" stop-color="#f0f921" stop-opacity="0.416"/><stop offset="0.7859" stop-color="#f0f921" stop-opacity="0.416"/><stop offset="0.7859" stop-color="#f0f921" stop-opacity="0.542"/><stop offset="0.7903" stop-color="#f0f921" stop-opacity="0.542"/><stop offset="0.7903" stop-color="#f0f921" stop-opacity="0.415"/><stop offset="0.7952" stop-color="#f0f921" stop-opacity="0.415"/><stop offset="0.7952" stop-color="#f0f921" stop-opacity="0.541"/><stop offset="0.7996" stop-color="#f0f921" stop-opacity="0.541"/><stop offset="0.7996" stop-color="#f0f921" stop-opacity="0.415"/><stop offset="0.8044" stop-color="#f0f921" stop-opacity="0.415"/><stop offset="0.8044" stop-color="#f0f921" stop-opacity="0.541"/><stop offset="0.8088" stop-color="#f0f921" stop-opacity="0.541"/><stop offset="0.8088" stop-color="#f0f921" stop-opacity="0.415"/><stop offset="0.8136" stop-color="#f0f921" stop-opacity="0.415"/><stop offset="0.8136" stop-color="#f0f921" stop-opacity="0.540"/><stop offset="0.8180" stop-color="#f0f921" stop-opacity="0.540"/><stop offset="0.8180" stop-color="#f0f921" stop-opacity="0.415"/><stop offset="0.8228" stop-color="#f0f921" stop-opacity="0.415"/><stop offset="0.8228" stop-color="#f0f921" stop-opacity="0.540"/><stop offset="0.8272" stop-color="#f0f921" stop-opacity="0.540"/><stop offset="0.8272" stop-color="#f0f921" stop-opacity="0.414"/><stop offset="0.8320" stop-color="#f0f921" stop-opacity="0.414"/><stop offset="0.8320" stop-color="#f0f921" stop-opacity="0.539"/><stop offset="0.8364" stop-color="#f0f921" stop-opacity="0.539"/><stop offset="0.8364" stop-color="#f0f921" stop-opacity="0.414"/><stop offset="0.8412" stop-color="#f0f921" stop-opacity="0.414"/><stop offset="0.8412" stop-color="#f0f921" stop-opacity="0.539"/><stop offset="0.8456" stop-color="#f0f921" stop-opacity="0.539"/><stop offset="0.8456" stop-color="#f0f921" stop-opacity="0.414"/><stop offset="0.8505" stop-color="#f0f921" stop-opacity="0.414"/><stop offset="0.8505" stop-color="#f0f921" stop-opacity="0.538"/><stop offset="0.8549" stop-color="#f0f921" stop-opacity="0.538"/><stop offset="0.8549" stop-color="#f0f921" stop-opacity="0.413"/><stop offset="0.8597" stop-color="#f0f921" stop-opacity="0.413"/><stop offset="0.8597" stop-color="#f0f921" stop-opacity="0.538"/><stop offset="0.8641" stop-color="#f0f921" stop-opacity="0.538"/><stop offset="0.8641" stop-color="#f0f921" stop-opacity="0.413"/><stop offset="0.8689" stop-color="#f0f921" stop-opacity="0.413"/><stop offset="0.8689" stop-color="#f0f921" stop-opacity="0.537"/><stop offset="0.8733" stop-color="#f0f921" stop-opacity="0.537"/><stop offset="0.8733" stop-color="#f0f921" stop-opacity="0.413"/><stop offset="0.8781" stop-color="#f0f921" stop-opacity="0.413"/><stop offset="0.8781" stop-color="#f0f921" stop-opacity="0.537"/><stop offset="0.8825" stop-color="#f0f921" stop-opacity="0.537"/><stop offset="0.8825" stop-color="#f0f921" stop-opacity="0.413"/><stop offset="0.8873" stop-color="#f0f921" stop-opacity="0.413"/><stop offset="0.8873" stop-color="#f0f921" stop-opacity="0.536"/><stop offset="0.8917" stop-color="#f0f921" stop-opacity="0.536"/><stop offset="0.8917" stop-color="#f0f921" stop-opacity="0.410"/><stop offset="0.8966" stop-color="#f0f921" stop-opacity="0.410"/><stop offset="0.8966" stop-color="#f0f921" stop-opacity="0.531"/><stop offset="0.9010" stop-color="#f0f921" stop-opacity="0.531"/><stop offset="0.9010" stop-color="#f0f921" stop-opacity="0.356"/><stop offset="0.9058" stop-color="#f0f921" stop-opacity="0.356"/><stop offset="0.9058" stop-color="#f0f921" stop-opacity="0.454"/><stop offset="0.9102" stop-color="#f0f921" stop-opacity="0.454"/><stop offset="0.9102" stop-color="#f0f921" stop-opacity="0.291"/><stop offset="0.9150" stop-color="#f0f921" stop-opacity="0.291"/><stop offset="0.9150" stop-color="#f0f921" stop-opacity="0.330"/><stop offset="0.9194" stop-color="#f0f921" stop-opacity="0.330"/><stop offset="0.9194" stop-color="#f0f921" stop-opacity="0.000"/><stop offset="0.9196" stop-color="#f0f921" stop-opacity="0.000"/></linearGradient><linearGradient id="gB5" gradientUnits="userSpaceOnUse" x1="0" y1="552.5" x2="0" y2="961.5"><stop offset="0.0000" stop-color="#f0f921" stop-opacity="0.657"/><stop offset="0.0037" stop-color="#f0f921" stop-opacity="0.657"/><stop offset="0.0037" stop-color="#f0f921" stop-opacity="0.524"/><stop offset="0.2262" stop-color="#f0f921" stop-opacity="0.499"/><stop offset="0.2262" stop-color="#f0f921" stop-opacity="0.496"/><stop offset="0.2311" stop-color="#f0f921" stop-opacity="0.496"/><stop offset="0.2311" stop-color="#f0f921" stop-opacity="0.711"/><stop offset="0.2628" stop-color="#f0f921" stop-opacity="0.711"/><stop offset="0.2628" stop-color="#f0f921" stop-opacity="0.536"/><stop offset="0.2653" stop-color="#f0f921" stop-opacity="0.536"/><stop offset="0.2653" stop-color="#f0f921" stop-opacity="0.711"/><stop offset="0.2995" stop-color="#f0f921" stop-opacity="0.711"/><stop offset="0.2995" stop-color="#f0f921" stop-opacity="0.536"/><stop offset="0.3020" stop-color="#f0f921" stop-opacity="0.536"/><stop offset="0.3020" stop-color="#f0f921" stop-opacity="0.711"/><stop offset="0.3191" stop-color="#f0f921" stop-opacity="0.711"/><stop offset="0.3191" stop-color="#f0f921" stop-opacity="0.496"/><stop offset="0.3242" stop-color="#f0f921" stop-opacity="0.496"/><stop offset="0.3242" stop-color="#f0f921" stop-opacity="0.572"/><stop offset="0.3286" stop-color="#f0f921" stop-opacity="0.572"/><stop offset="0.3286" stop-color="#f0f921" stop-opacity="0.496"/><stop offset="0.3334" stop-color="#f0f921" stop-opacity="0.496"/><stop offset="0.3334" stop-color="#f0f921" stop-opacity="0.571"/><stop offset="0.3378" stop-color="#f0f921" stop-opacity="0.571"/><stop offset="0.3378" stop-color="#f0f921" stop-opacity="0.496"/><stop offset="0.3426" stop-color="#f0f921" stop-opacity="0.496"/><stop offset="0.3426" stop-color="#f0f921" stop-opacity="0.571"/><stop offset="0.3470" stop-color="#f0f921" stop-opacity="0.571"/><stop offset="0.3470" stop-color="#f0f921" stop-opacity="0.455"/><stop offset="0.3518" stop-color="#f0f921" stop-opacity="0.455"/><stop offset="0.3518" stop-color="#f0f921" stop-opacity="0.600"/><stop offset="0.3562" stop-color="#f0f921" stop-opacity="0.600"/><stop offset="0.3562" stop-color="#f0f921" stop-opacity="0.455"/><stop offset="0.3610" stop-color="#f0f921" stop-opacity="0.455"/><stop offset="0.3610" stop-color="#f0f921" stop-opacity="0.599"/><stop offset="0.3654" stop-color="#f0f921" stop-opacity="0.599"/><stop offset="0.3654" stop-color="#f0f921" stop-opacity="0.455"/><stop offset="0.3702" stop-color="#f0f921" stop-opacity="0.455"/><stop offset="0.3702" stop-color="#f0f921" stop-opacity="0.599"/><stop offset="0.3746" stop-color="#f0f921" stop-opacity="0.599"/><stop offset="0.3746" stop-color="#f0f921" stop-opacity="0.455"/><stop offset="0.3794" stop-color="#f0f921" stop-opacity="0.455"/><stop offset="0.3794" stop-color="#f0f921" stop-opacity="0.599"/><stop offset="0.3838" stop-color="#f0f921" stop-opacity="0.599"/><stop offset="0.3838" stop-color="#f0f921" stop-opacity="0.455"/><stop offset="0.3886" stop-color="#f0f921" stop-opacity="0.455"/><stop offset="0.3886" stop-color="#f0f921" stop-opacity="0.599"/><stop offset="0.3930" stop-color="#f0f921" stop-opacity="0.599"/><stop offset="0.3930" stop-color="#f0f921" stop-opacity="0.454"/><stop offset="0.3978" stop-color="#f0f921" stop-opacity="0.454"/><stop offset="0.3978" stop-color="#f0f921" stop-opacity="0.599"/><stop offset="0.4022" stop-color="#f0f921" stop-opacity="0.599"/><stop offset="0.4022" stop-color="#f0f921" stop-opacity="0.454"/><stop offset="0.4069" stop-color="#f0f921" stop-opacity="0.454"/><stop offset="0.4069" stop-color="#f0f921" stop-opacity="0.598"/><stop offset="0.4113" stop-color="#f0f921" stop-opacity="0.598"/><stop offset="0.4113" stop-color="#f0f921" stop-opacity="0.454"/><stop offset="0.4161" stop-color="#f0f921" stop-opacity="0.454"/><stop offset="0.4161" stop-color="#f0f921" stop-opacity="0.598"/><stop offset="0.4205" stop-color="#f0f921" stop-opacity="0.598"/><stop offset="0.4205" stop-color="#f0f921" stop-opacity="0.454"/><stop offset="0.4253" stop-color="#f0f921" stop-opacity="0.454"/><stop offset="0.4253" stop-color="#f0f921" stop-opacity="0.598"/><stop offset="0.4297" stop-color="#f0f921" stop-opacity="0.598"/><stop offset="0.4297" stop-color="#f0f921" stop-opacity="0.454"/><stop offset="0.4345" stop-color="#f0f921" stop-opacity="0.454"/><stop offset="0.4345" stop-color="#f0f921" stop-opacity="0.598"/><stop offset="0.4389" stop-color="#f0f921" stop-opacity="0.598"/><stop offset="0.4389" stop-color="#f0f921" stop-opacity="0.454"/><stop offset="0.4437" stop-color="#f0f921" stop-opacity="0.454"/><stop offset="0.4437" stop-color="#f0f921" stop-opacity="0.597"/><stop offset="0.4481" stop-color="#f0f921" stop-opacity="0.597"/><stop offset="0.4481" stop-color="#f0f921" stop-opacity="0.454"/><stop offset="0.4529" stop-color="#f0f921" stop-opacity="0.454"/><stop offset="0.4529" stop-color="#f0f921" stop-opacity="0.597"/><stop offset="0.4573" stop-color="#f0f921" stop-opacity="0.597"/><stop offset="0.4573" stop-color="#f0f921" stop-opacity="0.454"/><stop offset="0.4621" stop-color="#f0f921" stop-opacity="0.454"/><stop offset="0.4621" stop-color="#f0f921" stop-opacity="0.597"/><stop offset="0.4665" stop-color="#f0f921" stop-opacity="0.597"/><stop offset="0.4665" stop-color="#f0f921" stop-opacity="0.454"/><stop offset="0.4713" stop-color="#f0f921" stop-opacity="0.454"/><stop offset="0.4713" stop-color="#f0f921" stop-opacity="0.597"/><stop offset="0.4757" stop-color="#f0f921" stop-opacity="0.597"/><stop offset="0.4757" stop-color="#f0f921" stop-opacity="0.454"/><stop offset="0.4805" stop-color="#f0f921" stop-opacity="0.454"/><stop offset="0.4805" stop-color="#f0f921" stop-opacity="0.597"/><stop offset="0.4849" stop-color="#f0f921" stop-opacity="0.597"/><stop offset="0.4849" stop-color="#f0f921" stop-opacity="0.454"/><stop offset="0.4897" stop-color="#f0f921" stop-opacity="0.454"/><stop offset="0.4897" stop-color="#f0f921" stop-opacity="0.596"/><stop offset="0.4941" stop-color="#f0f921" stop-opacity="0.596"/><stop offset="0.4941" stop-color="#f0f921" stop-opacity="0.454"/><stop offset="0.4989" stop-color="#f0f921" stop-opacity="0.454"/><stop offset="0.4989" stop-color="#f0f921" stop-opacity="0.596"/><stop offset="0.5033" stop-color="#f0f921" stop-opacity="0.596"/><stop offset="0.5033" stop-color="#f0f921" stop-opacity="0.454"/><stop offset="0.5081" stop-color="#f0f921" stop-opacity="0.454"/><stop offset="0.5081" stop-color="#f0f921" stop-opacity="0.596"/><stop offset="0.5125" stop-color="#f0f921" stop-opacity="0.596"/><stop offset="0.5125" stop-color="#f0f921" stop-opacity="0.453"/><stop offset="0.5173" stop-color="#f0f921" stop-opacity="0.453"/><stop offset="0.5173" stop-color="#f0f921" stop-opacity="0.596"/><stop offset="0.5217" stop-color="#f0f921" stop-opacity="0.596"/><stop offset="0.5217" stop-color="#f0f921" stop-opacity="0.453"/><stop offset="0.5265" stop-color="#f0f921" stop-opacity="0.453"/><stop offset="0.5265" stop-color="#f0f921" stop-opacity="0.595"/><stop offset="0.5309" stop-color="#f0f921" stop-opacity="0.595"/><stop offset="0.5309" stop-color="#f0f921" stop-opacity="0.453"/><stop offset="0.5356" stop-color="#f0f921" stop-opacity="0.453"/><stop offset="0.5356" stop-color="#f0f921" stop-opacity="0.595"/><stop offset="0.5400" stop-color="#f0f921" stop-opacity="0.595"/><stop offset="0.5400" stop-color="#f0f921" stop-opacity="0.453"/><stop offset="0.5448" stop-color="#f0f921" stop-opacity="0.453"/><stop offset="0.5448" stop-color="#f0f921" stop-opacity="0.595"/><stop offset="0.5492" stop-color="#f0f921" stop-opacity="0.595"/><stop offset="0.5492" stop-color="#f0f921" stop-opacity="0.453"/><stop offset="0.5540" stop-color="#f0f921" stop-opacity="0.453"/><stop offset="0.5540" stop-color="#f0f921" stop-opacity="0.595"/><stop offset="0.5584" stop-color="#f0f921" stop-opacity="0.595"/><stop offset="0.5584" stop-color="#f0f921" stop-opacity="0.453"/><stop offset="0.5632" stop-color="#f0f921" stop-opacity="0.453"/><stop offset="0.5632" stop-color="#f0f921" stop-opacity="0.594"/><stop offset="0.5676" stop-color="#f0f921" stop-opacity="0.594"/><stop offset="0.5676" stop-color="#f0f921" stop-opacity="0.453"/><stop offset="0.5724" stop-color="#f0f921" stop-opacity="0.453"/><stop offset="0.5724" stop-color="#f0f921" stop-opacity="0.594"/><stop offset="0.5768" stop-color="#f0f921" stop-opacity="0.594"/><stop offset="0.5768" stop-color="#f0f921" stop-opacity="0.453"/><stop offset="0.5816" stop-color="#f0f921" stop-opacity="0.453"/><stop offset="0.5816" stop-color="#f0f921" stop-opacity="0.594"/><stop offset="0.5860" stop-color="#f0f921" stop-opacity="0.594"/><stop offset="0.5860" stop-color="#f0f921" stop-opacity="0.453"/><stop offset="0.5908" stop-color="#f0f921" stop-opacity="0.453"/><stop offset="0.5908" stop-color="#f0f921" stop-opacity="0.594"/><stop offset="0.5952" stop-color="#f0f921" stop-opacity="0.594"/><stop offset="0.5952" stop-color="#f0f921" stop-opacity="0.453"/><stop offset="0.6000" stop-color="#f0f921" stop-opacity="0.453"/><stop offset="0.6000" stop-color="#f0f921" stop-opacity="0.594"/><stop offset="0.6044" stop-color="#f0f921" stop-opacity="0.594"/><stop offset="0.6044" stop-color="#f0f921" stop-opacity="0.453"/><stop offset="0.6092" stop-color="#f0f921" stop-opacity="0.453"/><stop offset="0.6092" stop-color="#f0f921" stop-opacity="0.593"/><stop offset="0.6136" stop-color="#f0f921" stop-opacity="0.593"/><stop offset="0.6136" stop-color="#f0f921" stop-opacity="0.453"/><stop offset="0.6184" stop-color="#f0f921" stop-opacity="0.453"/><stop offset="0.6184" stop-color="#f0f921" stop-opacity="0.593"/><stop offset="0.6228" stop-color="#f0f921" stop-opacity="0.593"/><stop offset="0.6228" stop-color="#f0f921" stop-opacity="0.453"/><stop offset="0.6276" stop-color="#f0f921" stop-opacity="0.453"/><stop offset="0.6276" stop-color="#f0f921" stop-opacity="0.593"/><stop offset="0.6320" stop-color="#f0f921" stop-opacity="0.593"/><stop offset="0.6320" stop-color="#f0f921" stop-opacity="0.452"/><stop offset="0.6368" stop-color="#f0f921" stop-opacity="0.452"/><stop offset="0.6368" stop-color="#f0f921" stop-opacity="0.593"/><stop offset="0.6412" stop-color="#f0f921" stop-opacity="0.593"/><stop offset="0.6412" stop-color="#f0f921" stop-opacity="0.452"/><stop offset="0.6460" stop-color="#f0f921" stop-opacity="0.452"/><stop offset="0.6460" stop-color="#f0f921" stop-opacity="0.592"/><stop offset="0.6504" stop-color="#f0f921" stop-opacity="0.592"/><stop offset="0.6504" stop-color="#f0f921" stop-opacity="0.452"/><stop offset="0.6552" stop-color="#f0f921" stop-opacity="0.452"/><stop offset="0.6552" stop-color="#f0f921" stop-opacity="0.592"/><stop offset="0.6596" stop-color="#f0f921" stop-opacity="0.592"/><stop offset="0.6596" stop-color="#f0f921" stop-opacity="0.452"/><stop offset="0.6644" stop-color="#f0f921" stop-opacity="0.452"/><stop offset="0.6644" stop-color="#f0f921" stop-opacity="0.592"/><stop offset="0.6688" stop-color="#f0f921" stop-opacity="0.592"/><stop offset="0.6688" stop-color="#f0f921" stop-opacity="0.452"/><stop offset="0.6735" stop-color="#f0f921" stop-opacity="0.452"/><stop offset="0.6735" stop-color="#f0f921" stop-opacity="0.592"/><stop offset="0.6779" stop-color="#f0f921" stop-opacity="0.592"/><stop offset="0.6779" stop-color="#f0f921" stop-opacity="0.452"/><stop offset="0.6827" stop-color="#f0f921" stop-opacity="0.452"/><stop offset="0.6827" stop-color="#f0f921" stop-opacity="0.592"/><stop offset="0.6871" stop-color="#f0f921" stop-opacity="0.592"/><stop offset="0.6871" stop-color="#f0f921" stop-opacity="0.452"/><stop offset="0.6919" stop-color="#f0f921" stop-opacity="0.452"/><stop offset="0.6919" stop-color="#f0f921" stop-opacity="0.591"/><stop offset="0.6963" stop-color="#f0f921" stop-opacity="0.591"/><stop offset="0.6963" stop-color="#f0f921" stop-opacity="0.452"/><stop offset="0.7011" stop-color="#f0f921" stop-opacity="0.452"/><stop offset="0.7011" stop-color="#f0f921" stop-opacity="0.591"/><stop offset="0.7055" stop-color="#f0f921" stop-opacity="0.591"/><stop offset="0.7055" stop-color="#f0f921" stop-opacity="0.452"/><stop offset="0.7103" stop-color="#f0f921" stop-opacity="0.452"/><stop offset="0.7103" stop-color="#f0f921" stop-opacity="0.591"/><stop offset="0.7147" stop-color="#f0f921" stop-opacity="0.591"/><stop offset="0.7147" stop-color="#f0f921" stop-opacity="0.452"/><stop offset="0.7195" stop-color="#f0f921" stop-opacity="0.452"/><stop offset="0.7195" stop-color="#f0f921" stop-opacity="0.591"/><stop offset="0.7239" stop-color="#f0f921" stop-opacity="0.591"/><stop offset="0.7239" stop-color="#f0f921" stop-opacity="0.452"/><stop offset="0.7287" stop-color="#f0f921" stop-opacity="0.452"/><stop offset="0.7287" stop-color="#f0f921" stop-opacity="0.590"/><stop offset="0.7331" stop-color="#f0f921" stop-opacity="0.590"/><stop offset="0.7331" stop-color="#f0f921" stop-opacity="0.452"/><stop offset="0.7379" stop-color="#f0f921" stop-opacity="0.452"/><stop offset="0.7379" stop-color="#f0f921" stop-opacity="0.590"/><stop offset="0.7423" stop-color="#f0f921" stop-opacity="0.590"/><stop offset="0.7423" stop-color="#f0f921" stop-opacity="0.451"/><stop offset="0.7471" stop-color="#f0f921" stop-opacity="0.451"/><stop offset="0.7471" stop-color="#f0f921" stop-opacity="0.590"/><stop offset="0.7515" stop-color="#f0f921" stop-opacity="0.590"/><stop offset="0.7515" stop-color="#f0f921" stop-opacity="0.451"/><stop offset="0.7563" stop-color="#f0f921" stop-opacity="0.451"/><stop offset="0.7563" stop-color="#f0f921" stop-opacity="0.590"/><stop offset="0.7607" stop-color="#f0f921" stop-opacity="0.590"/><stop offset="0.7607" stop-color="#f0f921" stop-opacity="0.451"/><stop offset="0.7655" stop-color="#f0f921" stop-opacity="0.451"/><stop offset="0.7655" stop-color="#f0f921" stop-opacity="0.590"/><stop offset="0.7699" stop-color="#f0f921" stop-opacity="0.590"/><stop offset="0.7699" stop-color="#f0f921" stop-opacity="0.451"/><stop offset="0.7747" stop-color="#f0f921" stop-opacity="0.451"/><stop offset="0.7747" stop-color="#f0f921" stop-opacity="0.589"/><stop offset="0.7791" stop-color="#f0f921" stop-opacity="0.589"/><stop offset="0.7791" stop-color="#f0f921" stop-opacity="0.451"/><stop offset="0.7839" stop-color="#f0f921" stop-opacity="0.451"/><stop offset="0.7839" stop-color="#f0f921" stop-opacity="0.589"/><stop offset="0.7883" stop-color="#f0f921" stop-opacity="0.589"/><stop offset="0.7883" stop-color="#f0f921" stop-opacity="0.451"/><stop offset="0.7931" stop-color="#f0f921" stop-opacity="0.451"/><stop offset="0.7931" stop-color="#f0f921" stop-opacity="0.589"/><stop offset="0.7975" stop-color="#f0f921" stop-opacity="0.589"/><stop offset="0.7975" stop-color="#f0f921" stop-opacity="0.451"/><stop offset="0.8022" stop-color="#f0f921" stop-opacity="0.451"/><stop offset="0.8022" stop-color="#f0f921" stop-opacity="0.589"/><stop offset="0.8067" stop-color="#f0f921" stop-opacity="0.589"/><stop offset="0.8067" stop-color="#f0f921" stop-opacity="0.451"/><stop offset="0.8114" stop-color="#f0f921" stop-opacity="0.451"/><stop offset="0.8114" stop-color="#f0f921" stop-opacity="0.588"/><stop offset="0.8158" stop-color="#f0f921" stop-opacity="0.588"/><stop offset="0.8158" stop-color="#f0f921" stop-opacity="0.451"/><stop offset="0.8206" stop-color="#f0f921" stop-opacity="0.451"/><stop offset="0.8206" stop-color="#f0f921" stop-opacity="0.588"/><stop offset="0.8250" stop-color="#f0f921" stop-opacity="0.588"/><stop offset="0.8250" stop-color="#f0f921" stop-opacity="0.451"/><stop offset="0.8298" stop-color="#f0f921" stop-opacity="0.451"/><stop offset="0.8298" stop-color="#f0f921" stop-opacity="0.588"/><stop offset="0.8342" stop-color="#f0f921" stop-opacity="0.588"/><stop offset="0.8342" stop-color="#f0f921" stop-opacity="0.451"/><stop offset="0.8390" stop-color="#f0f921" stop-opacity="0.451"/><stop offset="0.8390" stop-color="#f0f921" stop-opacity="0.588"/><stop offset="0.8434" stop-color="#f0f921" stop-opacity="0.588"/><stop offset="0.8434" stop-color="#f0f921" stop-opacity="0.451"/><stop offset="0.8482" stop-color="#f0f921" stop-opacity="0.451"/><stop offset="0.8482" stop-color="#f0f921" stop-opacity="0.587"/><stop offset="0.8526" stop-color="#f0f921" stop-opacity="0.587"/><stop offset="0.8526" stop-color="#f0f921" stop-opacity="0.451"/><stop offset="0.8574" stop-color="#f0f921" stop-opacity="0.451"/><stop offset="0.8574" stop-color="#f0f921" stop-opacity="0.587"/><stop offset="0.8618" stop-color="#f0f921" stop-opacity="0.587"/><stop offset="0.8618" stop-color="#f0f921" stop-opacity="0.450"/><stop offset="0.8666" stop-color="#f0f921" stop-opacity="0.450"/><stop offset="0.8666" stop-color="#f0f921" stop-opacity="0.587"/><stop offset="0.8710" stop-color="#f0f921" stop-opacity="0.587"/><stop offset="0.8710" stop-color="#f0f921" stop-opacity="0.450"/><stop offset="0.8758" stop-color="#f0f921" stop-opacity="0.450"/><stop offset="0.8758" stop-color="#f0f921" stop-opacity="0.587"/><stop offset="0.8802" stop-color="#f0f921" stop-opacity="0.587"/><stop offset="0.8802" stop-color="#f0f921" stop-opacity="0.450"/><stop offset="0.8850" stop-color="#f0f921" stop-opacity="0.450"/><stop offset="0.8850" stop-color="#f0f921" stop-opacity="0.587"/><stop offset="0.8894" stop-color="#f0f921" stop-opacity="0.587"/><stop offset="0.8894" stop-color="#f0f921" stop-opacity="0.450"/><stop offset="0.8942" stop-color="#f0f921" stop-opacity="0.450"/><stop offset="0.8942" stop-color="#f0f921" stop-opacity="0.586"/><stop offset="0.8986" stop-color="#f0f921" stop-opacity="0.586"/><stop offset="0.8986" stop-color="#f0f921" stop-opacity="0.406"/><stop offset="0.9034" stop-color="#f0f921" stop-opacity="0.406"/><stop offset="0.9034" stop-color="#f0f921" stop-opacity="0.501"/><stop offset="0.9078" stop-color="#f0f921" stop-opacity="0.501"/><stop offset="0.9078" stop-color="#f0f921" stop-opacity="0.328"/><stop offset="0.9126" stop-color="#f0f921" stop-opacity="0.328"/><stop offset="0.9126" stop-color="#f0f921" stop-opacity="0.390"/><stop offset="0.9170" stop-color="#f0f921" stop-opacity="0.390"/><stop offset="0.9170" stop-color="#f0f921" stop-opacity="0.000"/><stop offset="0.9172" stop-color="#f0f921" stop-opacity="0.000"/></linearGradient><linearGradient id="gS5" gradientUnits="userSpaceOnUse" x1="0" y1="552.5" x2="0" y2="961.5"><stop offset="0.0000" stop-color="#f0f921" stop-opacity="0.657"/><stop offset="0.0037" stop-color="#f0f921" stop-opacity="0.657"/><stop offset="0.0037" stop-color="#f0f921" stop-opacity="0.536"/><stop offset="0.2262" stop-color="#f0f921" stop-opacity="0.536"/><stop offset="0.2262" stop-color="#f0f921" stop-opacity="0.496"/><stop offset="0.2311" stop-color="#f0f921" stop-opacity="0.496"/><stop offset="0.2311" stop-color="#f0f921" stop-opacity="0.692"/><stop offset="0.2628" stop-color="#f0f921" stop-opacity="0.692"/><stop offset="0.2628" stop-color="#f0f921" stop-opacity="0.536"/><stop offset="0.2653" stop-color="#f0f921" stop-opacity="0.536"/><stop offset="0.2653" stop-color="#f0f921" stop-opacity="0.692"/><stop offset="0.2995" stop-color="#f0f921" stop-opacity="0.692"/><stop offset="0.2995" stop-color="#f0f921" stop-opacity="0.536"/><stop offset="0.3020" stop-color="#f0f921" stop-opacity="0.536"/><stop offset="0.3020" stop-color="#f0f921" stop-opacity="0.692"/><stop offset="0.3191" stop-color="#f0f921" stop-opacity="0.692"/><stop offset="0.3191" stop-color="#f0f921" stop-opacity="0.496"/><stop offset="0.3242" stop-color="#f0f921" stop-opacity="0.496"/><stop offset="0.3242" stop-color="#f0f921" stop-opacity="0.572"/><stop offset="0.3286" stop-color="#f0f921" stop-opacity="0.572"/><stop offset="0.3286" stop-color="#f0f921" stop-opacity="0.496"/><stop offset="0.3334" stop-color="#f0f921" stop-opacity="0.496"/><stop offset="0.3334" stop-color="#f0f921" stop-opacity="0.571"/><stop offset="0.3378" stop-color="#f0f921" stop-opacity="0.571"/><stop offset="0.3378" stop-color="#f0f921" stop-opacity="0.495"/><stop offset="0.3426" stop-color="#f0f921" stop-opacity="0.495"/><stop offset="0.3426" stop-color="#f0f921" stop-opacity="0.570"/><stop offset="0.3470" stop-color="#f0f921" stop-opacity="0.570"/><stop offset="0.3470" stop-color="#f0f921" stop-opacity="0.448"/><stop offset="0.3518" stop-color="#f0f921" stop-opacity="0.448"/><stop offset="0.3518" stop-color="#f0f921" stop-opacity="0.583"/><stop offset="0.3562" stop-color="#f0f921" stop-opacity="0.583"/><stop offset="0.3562" stop-color="#f0f921" stop-opacity="0.447"/><stop offset="0.3610" stop-color="#f0f921" stop-opacity="0.447"/><stop offset="0.3610" stop-color="#f0f921" stop-opacity="0.582"/><stop offset="0.3654" stop-color="#f0f921" stop-opacity="0.582"/><stop offset="0.3654" stop-color="#f0f921" stop-opacity="0.447"/><stop offset="0.3702" stop-color="#f0f921" stop-opacity="0.447"/><stop offset="0.3702" stop-color="#f0f921" stop-opacity="0.581"/><stop offset="0.3746" stop-color="#f0f921" stop-opacity="0.581"/><stop offset="0.3746" stop-color="#f0f921" stop-opacity="0.447"/><stop offset="0.3794" stop-color="#f0f921" stop-opacity="0.447"/><stop offset="0.3794" stop-color="#f0f921" stop-opacity="0.581"/><stop offset="0.3838" stop-color="#f0f921" stop-opacity="0.581"/><stop offset="0.3838" stop-color="#f0f921" stop-opacity="0.446"/><stop offset="0.3886" stop-color="#f0f921" stop-opacity="0.446"/><stop offset="0.3886" stop-color="#f0f921" stop-opacity="0.580"/><stop offset="0.3930" stop-color="#f0f921" stop-opacity="0.580"/><stop offset="0.3930" stop-color="#f0f921" stop-opacity="0.446"/><stop offset="0.3978" stop-color="#f0f921" stop-opacity="0.446"/><stop offset="0.3978" stop-color="#f0f921" stop-opacity="0.579"/><stop offset="0.4022" stop-color="#f0f921" stop-opacity="0.579"/><stop offset="0.4022" stop-color="#f0f921" stop-opacity="0.446"/><stop offset="0.4069" stop-color="#f0f921" stop-opacity="0.446"/><stop offset="0.4069" stop-color="#f0f921" stop-opacity="0.578"/><stop offset="0.4113" stop-color="#f0f921" stop-opacity="0.578"/><stop offset="0.4113" stop-color="#f0f921" stop-opacity="0.445"/><stop offset="0.4161" stop-color="#f0f921" stop-opacity="0.445"/><stop offset="0.4161" stop-color="#f0f921" stop-opacity="0.577"/><stop offset="0.4205" stop-color="#f0f921" stop-opacity="0.577"/><stop offset="0.4205" stop-color="#f0f921" stop-opacity="0.445"/><stop offset="0.4253" stop-color="#f0f921" stop-opacity="0.445"/><stop offset="0.4253" stop-color="#f0f921" stop-opacity="0.576"/><stop offset="0.4297" stop-color="#f0f921" stop-opacity="0.576"/><stop offset="0.4297" stop-color="#f0f921" stop-opacity="0.445"/><stop offset="0.4345" stop-color="#f0f921" stop-opacity="0.445"/><stop offset="0.4345" stop-color="#f0f921" stop-opacity="0.576"/><stop offset="0.4389" stop-color="#f0f921" stop-opacity="0.576"/><stop offset="0.4389" stop-color="#f0f921" stop-opacity="0.445"/><stop offset="0.4437" stop-color="#f0f921" stop-opacity="0.445"/><stop offset="0.4437" stop-color="#f0f921" stop-opacity="0.575"/><stop offset="0.4481" stop-color="#f0f921" stop-opacity="0.575"/><stop offset="0.4481" stop-color="#f0f921" stop-opacity="0.444"/><stop offset="0.4529" stop-color="#f0f921" stop-opacity="0.444"/><stop offset="0.4529" stop-color="#f0f921" stop-opacity="0.574"/><stop offset="0.4573" stop-color="#f0f921" stop-opacity="0.574"/><stop offset="0.4573" stop-color="#f0f921" stop-opacity="0.444"/><stop offset="0.4621" stop-color="#f0f921" stop-opacity="0.444"/><stop offset="0.4621" stop-color="#f0f921" stop-opacity="0.573"/><stop offset="0.4665" stop-color="#f0f921" stop-opacity="0.573"/><stop offset="0.4665" stop-color="#f0f921" stop-opacity="0.444"/><stop offset="0.4713" stop-color="#f0f921" stop-opacity="0.444"/><stop offset="0.4713" stop-color="#f0f921" stop-opacity="0.572"/><stop offset="0.4757" stop-color="#f0f921" stop-opacity="0.572"/><stop offset="0.4757" stop-color="#f0f921" stop-opacity="0.443"/><stop offset="0.4805" stop-color="#f0f921" stop-opacity="0.443"/><stop offset="0.4805" stop-color="#f0f921" stop-opacity="0.571"/><stop offset="0.4849" stop-color="#f0f921" stop-opacity="0.571"/><stop offset="0.4849" stop-color="#f0f921" stop-opacity="0.443"/><stop offset="0.4897" stop-color="#f0f921" stop-opacity="0.443"/><stop offset="0.4897" stop-color="#f0f921" stop-opacity="0.571"/><stop offset="0.4941" stop-color="#f0f921" stop-opacity="0.571"/><stop offset="0.4941" stop-color="#f0f921" stop-opacity="0.443"/><stop offset="0.4989" stop-color="#f0f921" stop-opacity="0.443"/><stop offset="0.4989" stop-color="#f0f921" stop-opacity="0.570"/><stop offset="0.5033" stop-color="#f0f921" stop-opacity="0.570"/><stop offset="0.5033" stop-color="#f0f921" stop-opacity="0.443"/><stop offset="0.5081" stop-color="#f0f921" stop-opacity="0.443"/><stop offset="0.5081" stop-color="#f0f921" stop-opacity="0.569"/><stop offset="0.5125" stop-color="#f0f921" stop-opacity="0.569"/><stop offset="0.5125" stop-color="#f0f921" stop-opacity="0.442"/><stop offset="0.5173" stop-color="#f0f921" stop-opacity="0.442"/><stop offset="0.5173" stop-color="#f0f921" stop-opacity="0.568"/><stop offset="0.5217" stop-color="#f0f921" stop-opacity="0.568"/><stop offset="0.5217" stop-color="#f0f921" stop-opacity="0.442"/><stop offset="0.5265" stop-color="#f0f921" stop-opacity="0.442"/><stop offset="0.5265" stop-color="#f0f921" stop-opacity="0.567"/><stop offset="0.5309" stop-color="#f0f921" stop-opacity="0.567"/><stop offset="0.5309" stop-color="#f0f921" stop-opacity="0.442"/><stop offset="0.5356" stop-color="#f0f921" stop-opacity="0.442"/><stop offset="0.5356" stop-color="#f0f921" stop-opacity="0.567"/><stop offset="0.5400" stop-color="#f0f921" stop-opacity="0.567"/><stop offset="0.5400" stop-color="#f0f921" stop-opacity="0.441"/><stop offset="0.5448" stop-color="#f0f921" stop-opacity="0.441"/><stop offset="0.5448" stop-color="#f0f921" stop-opacity="0.566"/><stop offset="0.5492" stop-color="#f0f921" stop-opacity="0.566"/><stop offset="0.5492" stop-color="#f0f921" stop-opacity="0.441"/><stop offset="0.5540" stop-color="#f0f921" stop-opacity="0.441"/><stop offset="0.5540" stop-color="#f0f921" stop-opacity="0.565"/><stop offset="0.5584" stop-color="#f0f921" stop-opacity="0.565"/><stop offset="0.5584" stop-color="#f0f921" stop-opacity="0.441"/><stop offset="0.5632" stop-color="#f0f921" stop-opacity="0.441"/><stop offset="0.5632" stop-color="#f0f921" stop-opacity="0.564"/><stop offset="0.5676" stop-color="#f0f921" stop-opacity="0.564"/><stop offset="0.5676" stop-color="#f0f921" stop-opacity="0.441"/><stop offset="0.5724" stop-color="#f0f921" stop-opacity="0.441"/><stop offset="0.5724" stop-color="#f0f921" stop-opacity="0.563"/><stop offset="0.5768" stop-color="#f0f921" stop-opacity="0.563"/><stop offset="0.5768" stop-color="#f0f921" stop-opacity="0.440"/><stop offset="0.5816" stop-color="#f0f921" stop-opacity="0.440"/><stop offset="0.5816" stop-color="#f0f921" stop-opacity="0.562"/><stop offset="0.5860" stop-color="#f0f921" stop-opacity="0.562"/><stop offset="0.5860" stop-color="#f0f921" stop-opacity="0.440"/><stop offset="0.5908" stop-color="#f0f921" stop-opacity="0.440"/><stop offset="0.5908" stop-color="#f0f921" stop-opacity="0.562"/><stop offset="0.5952" stop-color="#f0f921" stop-opacity="0.562"/><stop offset="0.5952" stop-color="#f0f921" stop-opacity="0.440"/><stop offset="0.6000" stop-color="#f0f921" stop-opacity="0.440"/><stop offset="0.6000" stop-color="#f0f921" stop-opacity="0.561"/><stop offset="0.6044" stop-color="#f0f921" stop-opacity="0.561"/><stop offset="0.6044" stop-color="#f0f921" stop-opacity="0.439"/><stop offset="0.6092" stop-color="#f0f921" stop-opacity="0.439"/><stop offset="0.6092" stop-color="#f0f921" stop-opacity="0.560"/><stop offset="0.6136" stop-color="#f0f921" stop-opacity="0.560"/><stop offset="0.6136" stop-color="#f0f921" stop-opacity="0.439"/><stop offset="0.6184" stop-color="#f0f921" stop-opacity="0.439"/><stop offset="0.6184" stop-color="#f0f921" stop-opacity="0.559"/><stop offset="0.6228" stop-color="#f0f921" stop-opacity="0.559"/><stop offset="0.6228" stop-color="#f0f921" stop-opacity="0.439"/><stop offset="0.6276" stop-color="#f0f921" stop-opacity="0.439"/><stop offset="0.6276" stop-color="#f0f921" stop-opacity="0.559"/><stop offset="0.6320" stop-color="#f0f921" stop-opacity="0.559"/><stop offset="0.6320" stop-color="#f0f921" stop-opacity="0.438"/><stop offset="0.6368" stop-color="#f0f921" stop-opacity="0.438"/><stop offset="0.6368" stop-color="#f0f921" stop-opacity="0.558"/><stop offset="0.6412" stop-color="#f0f921" stop-opacity="0.558"/><stop offset="0.6412" stop-color="#f0f921" stop-opacity="0.438"/><stop offset="0.6460" stop-color="#f0f921" stop-opacity="0.438"/><stop offset="0.6460" stop-color="#f0f921" stop-opacity="0.557"/><stop offset="0.6504" stop-color="#f0f921" stop-opacity="0.557"/><stop offset="0.6504" stop-color="#f0f921" stop-opacity="0.438"/><stop offset="0.6552" stop-color="#f0f921" stop-opacity="0.438"/><stop offset="0.6552" stop-color="#f0f921" stop-opacity="0.557"/><stop offset="0.6596" stop-color="#f0f921" stop-opacity="0.557"/><stop offset="0.6596" stop-color="#f0f921" stop-opacity="0.437"/><stop offset="0.6644" stop-color="#f0f921" stop-opacity="0.437"/><stop offset="0.6644" stop-color="#f0f921" stop-opacity="0.556"/><stop offset="0.6688" stop-color="#f0f921" stop-opacity="0.556"/><stop offset="0.6688" stop-color="#f0f921" stop-opacity="0.437"/><stop offset="0.6735" stop-color="#f0f921" stop-opacity="0.437"/><stop offset="0.6735" stop-color="#f0f921" stop-opacity="0.556"/><stop offset="0.6779" stop-color="#f0f921" stop-opacity="0.556"/><stop offset="0.6779" stop-color="#f0f921" stop-opacity="0.437"/><stop offset="0.6827" stop-color="#f0f921" stop-opacity="0.437"/><stop offset="0.6827" stop-color="#f0f921" stop-opacity="0.555"/><stop offset="0.6871" stop-color="#f0f921" stop-opacity="0.555"/><stop offset="0.6871" stop-color="#f0f921" stop-opacity="0.436"/><stop offset="0.6919" stop-color="#f0f921" stop-opacity="0.436"/><stop offset="0.6919" stop-color="#f0f921" stop-opacity="0.554"/><stop offset="0.6963" stop-color="#f0f921" stop-opacity="0.554"/><stop offset="0.6963" stop-color="#f0f921" stop-opacity="0.436"/><stop offset="0.7011" stop-color="#f0f921" stop-opacity="0.436"/><stop offset="0.7011" stop-color="#f0f921" stop-opacity="0.554"/><stop offset="0.7055" stop-color="#f0f921" stop-opacity="0.554"/><stop offset="0.7055" stop-color="#f0f921" stop-opacity="0.436"/><stop offset="0.7103" stop-color="#f0f921" stop-opacity="0.436"/><stop offset="0.7103" stop-color="#f0f921" stop-opacity="0.553"/><stop offset="0.7147" stop-color="#f0f921" stop-opacity="0.553"/><stop offset="0.7147" stop-color="#f0f921" stop-opacity="0.435"/><stop offset="0.7195" stop-color="#f0f921" stop-opacity="0.435"/><stop offset="0.7195" stop-color="#f0f921" stop-opacity="0.552"/><stop offset="0.7239" stop-color="#f0f921" stop-opacity="0.552"/><stop offset="0.7239" stop-color="#f0f921" stop-opacity="0.435"/><stop offset="0.7287" stop-color="#f0f921" stop-opacity="0.435"/><stop offset="0.7287" stop-color="#f0f921" stop-opacity="0.552"/><stop offset="0.7331" stop-color="#f0f921" stop-opacity="0.552"/><stop offset="0.7331" stop-color="#f0f921" stop-opacity="0.435"/><stop offset="0.7379" stop-color="#f0f921" stop-opacity="0.435"/><stop offset="0.7379" stop-color="#f0f921" stop-opacity="0.551"/><stop offset="0.7423" stop-color="#f0f921" stop-opacity="0.551"/><stop offset="0.7423" stop-color="#f0f921" stop-opacity="0.434"/><stop offset="0.7471" stop-color="#f0f921" stop-opacity="0.434"/><stop offset="0.7471" stop-color="#f0f921" stop-opacity="0.550"/><stop offset="0.7515" stop-color="#f0f921" stop-opacity="0.550"/><stop offset="0.7515" stop-color="#f0f921" stop-opacity="0.434"/><stop offset="0.7563" stop-color="#f0f921" stop-opacity="0.434"/><stop offset="0.7563" stop-color="#f0f921" stop-opacity="0.550"/><stop offset="0.7607" stop-color="#f0f921" stop-opacity="0.550"/><stop offset="0.7607" stop-color="#f0f921" stop-opacity="0.434"/><stop offset="0.7655" stop-color="#f0f921" stop-opacity="0.434"/><stop offset="0.7655" stop-color="#f0f921" stop-opacity="0.549"/><stop offset="0.7699" stop-color="#f0f921" stop-opacity="0.549"/><stop offset="0.7699" stop-color="#f0f921" stop-opacity="0.433"/><stop offset="0.7747" stop-color="#f0f921" stop-opacity="0.433"/><stop offset="0.7747" stop-color="#f0f921" stop-opacity="0.549"/><stop offset="0.7791" stop-color="#f0f921" stop-opacity="0.549"/><stop offset="0.7791" stop-color="#f0f921" stop-opacity="0.433"/><stop offset="0.7839" stop-color="#f0f921" stop-opacity="0.433"/><stop offset="0.7839" stop-color="#f0f921" stop-opacity="0.548"/><stop offset="0.7883" stop-color="#f0f921" stop-opacity="0.548"/><stop offset="0.7883" stop-color="#f0f921" stop-opacity="0.433"/><stop offset="0.7931" stop-color="#f0f921" stop-opacity="0.433"/><stop offset="0.7931" stop-color="#f0f921" stop-opacity="0.547"/><stop offset="0.7975" stop-color="#f0f921" stop-opacity="0.547"/><stop offset="0.7975" stop-color="#f0f921" stop-opacity="0.432"/><stop offset="0.8022" stop-color="#f0f921" stop-opacity="0.432"/><stop offset="0.8022" stop-color="#f0f921" stop-opacity="0.547"/><stop offset="0.8067" stop-color="#f0f921" stop-opacity="0.547"/><stop offset="0.8067" stop-color="#f0f921" stop-opacity="0.432"/><stop offset="0.8114" stop-color="#f0f921" stop-opacity="0.432"/><stop offset="0.8114" stop-color="#f0f921" stop-opacity="0.546"/><stop offset="0.8158" stop-color="#f0f921" stop-opacity="0.546"/><stop offset="0.8158" stop-color="#f0f921" stop-opacity="0.432"/><stop offset="0.8206" stop-color="#f0f921" stop-opacity="0.432"/><stop offset="0.8206" stop-color="#f0f921" stop-opacity="0.545"/><stop offset="0.8250" stop-color="#f0f921" stop-opacity="0.545"/><stop offset="0.8250" stop-color="#f0f921" stop-opacity="0.431"/><stop offset="0.8298" stop-color="#f0f921" stop-opacity="0.431"/><stop offset="0.8298" stop-color="#f0f921" stop-opacity="0.545"/><stop offset="0.8342" stop-color="#f0f921" stop-opacity="0.545"/><stop offset="0.8342" stop-color="#f0f921" stop-opacity="0.431"/><stop offset="0.8390" stop-color="#f0f921" stop-opacity="0.431"/><stop offset="0.8390" stop-color="#f0f921" stop-opacity="0.544"/><stop offset="0.8434" stop-color="#f0f921" stop-opacity="0.544"/><stop offset="0.8434" stop-color="#f0f921" stop-opacity="0.431"/><stop offset="0.8482" stop-color="#f0f921" stop-opacity="0.431"/><stop offset="0.8482" stop-color="#f0f921" stop-opacity="0.543"/><stop offset="0.8526" stop-color="#f0f921" stop-opacity="0.543"/><stop offset="0.8526" stop-color="#f0f921" stop-opacity="0.430"/><stop offset="0.8574" stop-color="#f0f921" stop-opacity="0.430"/><stop offset="0.8574" stop-color="#f0f921" stop-opacity="0.543"/><stop offset="0.8618" stop-color="#f0f921" stop-opacity="0.543"/><stop offset="0.8618" stop-color="#f0f921" stop-opacity="0.430"/><stop offset="0.8666" stop-color="#f0f921" stop-opacity="0.430"/><stop offset="0.8666" stop-color="#f0f921" stop-opacity="0.542"/><stop offset="0.8710" stop-color="#f0f921" stop-opacity="0.542"/><stop offset="0.8710" stop-color="#f0f921" stop-opacity="0.430"/><stop offset="0.8758" stop-color="#f0f921" stop-opacity="0.430"/><stop offset="0.8758" stop-color="#f0f921" stop-opacity="0.542"/><stop offset="0.8802" stop-color="#f0f921" stop-opacity="0.542"/><stop offset="0.8802" stop-color="#f0f921" stop-opacity="0.429"/><stop offset="0.8850" stop-color="#f0f921" stop-opacity="0.429"/><stop offset="0.8850" stop-color="#f0f921" stop-opacity="0.541"/><stop offset="0.8894" stop-color="#f0f921" stop-opacity="0.541"/><stop offset="0.8894" stop-color="#f0f921" stop-opacity="0.427"/><stop offset="0.8942" stop-color="#f0f921" stop-opacity="0.427"/><stop offset="0.8942" stop-color="#f0f921" stop-opacity="0.535"/><stop offset="0.8986" stop-color="#f0f921" stop-opacity="0.535"/><stop offset="0.8986" stop-color="#f0f921" stop-opacity="0.370"/><stop offset="0.9034" stop-color="#f0f921" stop-opacity="0.370"/><stop offset="0.9034" stop-color="#f0f921" stop-opacity="0.456"/><stop offset="0.9078" stop-color="#f0f921" stop-opacity="0.456"/><stop offset="0.9078" stop-color="#f0f921" stop-opacity="0.296"/><stop offset="0.9126" stop-color="#f0f921" stop-opacity="0.296"/><stop offset="0.9126" stop-color="#f0f921" stop-opacity="0.330"/><stop offset="0.9170" stop-color="#f0f921" stop-opacity="0.330"/><stop offset="0.9170" stop-color="#f0f921" stop-opacity="0.000"/><stop offset="0.9172" stop-color="#f0f921" stop-opacity="0.000"/></linearGradient><linearGradient id="gOr" x1="0" y1="0" x2="1" y2="0"><stop offset="0" stop-color="#f0f921" stop-opacity="0.6"/><stop offset="1" stop-color="#f3e02a" stop-opacity="0.6"/></linearGradient>
</defs>
<rect width="1400" height="1000" fill="#fff"/>
<g filter="url(#dots)"><rect x="160" y="65.5" width="90" height="138.5" fill="url(#gB1)"/><rect x="414" y="65.5" width="29" height="138.5" fill="url(#gB1)"/><rect x="251" y="65.5" width="4" height="138.5" fill="url(#gS1)"/><rect x="258" y="65.5" width="4" height="138.5" fill="url(#gS1)"/><rect x="265" y="65.5" width="4" height="138.5" fill="url(#gS1)"/><rect x="273" y="65.5" width="3" height="138.5" fill="url(#gS1)"/><rect x="280" y="65.5" width="4" height="138.5" fill="url(#gS1)"/><rect x="288" y="65.5" width="3" height="138.5" fill="url(#gS1)"/><rect x="295" y="65.5" width="4" height="138.5" fill="url(#gS1)"/><rect x="302" y="65.5" width="4" height="138.5" fill="url(#gS1)"/><rect x="310" y="65.5" width="4" height="138.5" fill="url(#gS1)"/><rect x="317" y="65.5" width="4" height="138.5" fill="url(#gS1)"/><rect x="325" y="65.5" width="4" height="138.5" fill="url(#gS1)"/><rect x="332" y="65.5" width="4" height="138.5" fill="url(#gS1)"/><rect x="340" y="65.5" width="4" height="138.5" fill="url(#gS1)"/><rect x="347" y="65.5" width="4" height="138.5" fill="url(#gS1)"/><rect x="355" y="65.5" width="3" height="138.5" fill="url(#gS1)"/><rect x="362" y="65.5" width="4" height="138.5" fill="url(#gS1)"/><rect x="370" y="65.5" width="3" height="138.5" fill="url(#gS1)"/><rect x="377" y="65.5" width="4" height="138.5" fill="url(#gS1)"/><rect x="385" y="65.5" width="3" height="138.5" fill="url(#gS1)"/><rect x="392" y="65.5" width="4" height="138.5" fill="url(#gS1)"/><rect x="400" y="65.5" width="3" height="138.5" fill="url(#gS1)"/><rect x="407" y="65.5" width="4" height="138.5" fill="url(#gS1)"/><rect x="595" y="65.5" width="90" height="138.5" fill="url(#gB1)"/><rect x="848" y="65.5" width="31" height="138.5" fill="url(#gB1)"/><rect x="686" y="65.5" width="2" height="138.5" fill="url(#gS1)"/><rect x="692" y="65.5" width="3" height="138.5" fill="url(#gS1)"/><rect x="699" y="65.5" width="3" height="138.5" fill="url(#gS1)"/><rect x="706" y="65.5" width="4" height="138.5" fill="url(#gS1)"/><rect x="713" y="65.5" width="4" height="138.5" fill="url(#gS1)"/><rect x="721" y="65.5" width="4" height="138.5" fill="url(#gS1)"/><rect x="729" y="65.5" width="3" height="138.5" fill="url(#gS1)"/><rect x="736" y="65.5" width="3" height="138.5" fill="url(#gS1)"/><rect x="743" y="65.5" width="4" height="138.5" fill="url(#gS1)"/><rect x="751" y="65.5" width="3" height="138.5" fill="url(#gS1)"/><rect x="758" y="65.5" width="4" height="138.5" fill="url(#gS1)"/><rect x="766" y="65.5" width="3" height="138.5" fill="url(#gS1)"/><rect x="774" y="65.5" width="4" height="138.5" fill="url(#gS1)"/><rect x="781" y="65.5" width="3" height="138.5" fill="url(#gS1)"/><rect x="788" y="65.5" width="4" height="138.5" fill="url(#gS1)"/><rect x="796" y="65.5" width="3" height="138.5" fill="url(#gS1)"/><rect x="803" y="65.5" width="4" height="138.5" fill="url(#gS1)"/><rect x="811" y="65.5" width="3" height="138.5" fill="url(#gS1)"/><rect x="819" y="65.5" width="3" height="138.5" fill="url(#gS1)"/><rect x="825" y="65.5" width="4" height="138.5" fill="url(#gS1)"/><rect x="833" y="65.5" width="4" height="138.5" fill="url(#gS1)"/><rect x="840" y="65.5" width="4" height="138.5" fill="url(#gS1)"/><rect x="595" y="552.5" width="77" height="137.5" fill="url(#gB5)"/><rect x="673" y="552.5" width="12.5" height="137.5" fill="url(#gB5)"/><rect x="848" y="552.5" width="8" height="137.5" fill="url(#gB5)"/><rect x="686" y="552.5" width="2" height="137.5" fill="url(#gS5)"/><rect x="692" y="552.5" width="3" height="137.5" fill="url(#gS5)"/><rect x="699" y="552.5" width="3" height="137.5" fill="url(#gS5)"/><rect x="706" y="552.5" width="4" height="137.5" fill="url(#gS5)"/><rect x="713" y="552.5" width="4" height="137.5" fill="url(#gS5)"/><rect x="721" y="552.5" width="4" height="137.5" fill="url(#gS5)"/><rect x="729" y="552.5" width="3" height="137.5" fill="url(#gS5)"/><rect x="736" y="552.5" width="3" height="137.5" fill="url(#gS5)"/><rect x="743" y="552.5" width="4" height="137.5" fill="url(#gS5)"/><rect x="751" y="552.5" width="3" height="137.5" fill="url(#gS5)"/><rect x="758" y="552.5" width="4" height="137.5" fill="url(#gS5)"/><rect x="766" y="552.5" width="3" height="137.5" fill="url(#gS5)"/><rect x="774" y="552.5" width="4" height="137.5" fill="url(#gS5)"/><rect x="781" y="552.5" width="3" height="137.5" fill="url(#gS5)"/><rect x="788" y="552.5" width="4" height="137.5" fill="url(#gS5)"/><rect x="796" y="552.5" width="3" height="137.5" fill="url(#gS5)"/><rect x="803" y="552.5" width="4" height="137.5" fill="url(#gS5)"/><rect x="811" y="552.5" width="3" height="137.5" fill="url(#gS5)"/><rect x="819" y="552.5" width="3" height="137.5" fill="url(#gS5)"/><rect x="825" y="552.5" width="4" height="137.5" fill="url(#gS5)"/><rect x="833" y="552.5" width="4" height="137.5" fill="url(#gS5)"/><rect x="840" y="552.5" width="4" height="137.5" fill="url(#gS5)"/><rect x="428" y="162" width="15" height="14" fill="url(#gOr)"/><rect x="428" y="177" width="15" height="14" fill="url(#gOr)"/><rect x="428" y="192" width="15" height="5" fill="url(#gOr)"/><rect x="860" y="162" width="19" height="14" fill="url(#gOr)"/><rect x="860" y="177" width="19" height="14" fill="url(#gOr)"/><rect x="860" y="192" width="19" height="5" fill="url(#gOr)"/></g><g filter="url(#dots2)"><rect x="160" y="204" width="90" height="270.5" fill="url(#gB1)"/><rect x="414" y="204" width="29" height="270.5" fill="url(#gB1)"/><rect x="251" y="204" width="4" height="270.5" fill="url(#gS1)"/><rect x="258" y="204" width="4" height="270.5" fill="url(#gS1)"/><rect x="265" y="204" width="4" height="270.5" fill="url(#gS1)"/><rect x="273" y="204" width="3" height="270.5" fill="url(#gS1)"/><rect x="280" y="204" width="4" height="270.5" fill="url(#gS1)"/><rect x="288" y="204" width="3" height="270.5" fill="url(#gS1)"/><rect x="295" y="204" width="4" height="270.5" fill="url(#gS1)"/><rect x="302" y="204" width="4" height="270.5" fill="url(#gS1)"/><rect x="310" y="204" width="4" height="270.5" fill="url(#gS1)"/><rect x="317" y="204" width="4" height="270.5" fill="url(#gS1)"/><rect x="325" y="204" width="4" height="270.5" fill="url(#gS1)"/><rect x="332" y="204" width="4" height="270.5" fill="url(#gS1)"/><rect x="340" y="204" width="4" height="270.5" fill="url(#gS1)"/><rect x="347" y="204" width="4" height="270.5" fill="url(#gS1)"/><rect x="355" y="204" width="3" height="270.5" fill="url(#gS1)"/><rect x="362" y="204" width="4" height="270.5" fill="url(#gS1)"/><rect x="370" y="204" width="3" height="270.5" fill="url(#gS1)"/><rect x="377" y="204" width="4" height="270.5" fill="url(#gS1)"/><rect x="385" y="204" width="3" height="270.5" fill="url(#gS1)"/><rect x="392" y="204" width="4" height="270.5" fill="url(#gS1)"/><rect x="400" y="204" width="3" height="270.5" fill="url(#gS1)"/><rect x="407" y="204" width="4" height="270.5" fill="url(#gS1)"/><rect x="595" y="204" width="90" height="270.5" fill="url(#gB1)"/><rect x="848" y="204" width="31" height="270.5" fill="url(#gB1)"/><rect x="686" y="204" width="2" height="270.5" fill="url(#gS1)"/><rect x="692" y="204" width="3" height="270.5" fill="url(#gS1)"/><rect x="699" y="204" width="3" height="270.5" fill="url(#gS1)"/><rect x="706" y="204" width="4" height="270.5" fill="url(#gS1)"/><rect x="713" y="204" width="4" height="270.5" fill="url(#gS1)"/><rect x="721" y="204" width="4" height="270.5" fill="url(#gS1)"/><rect x="729" y="204" width="3" height="270.5" fill="url(#gS1)"/><rect x="736" y="204" width="3" height="270.5" fill="url(#gS1)"/><rect x="743" y="204" width="4" height="270.5" fill="url(#gS1)"/><rect x="751" y="204" width="3" height="270.5" fill="url(#gS1)"/><rect x="758" y="204" width="4" height="270.5" fill="url(#gS1)"/><rect x="766" y="204" width="3" height="270.5" fill="url(#gS1)"/><rect x="774" y="204" width="4" height="270.5" fill="url(#gS1)"/><rect x="781" y="204" width="3" height="270.5" fill="url(#gS1)"/><rect x="788" y="204" width="4" height="270.5" fill="url(#gS1)"/><rect x="796" y="204" width="3" height="270.5" fill="url(#gS1)"/><rect x="803" y="204" width="4" height="270.5" fill="url(#gS1)"/><rect x="811" y="204" width="3" height="270.5" fill="url(#gS1)"/><rect x="819" y="204" width="3" height="270.5" fill="url(#gS1)"/><rect x="825" y="204" width="4" height="270.5" fill="url(#gS1)"/><rect x="833" y="204" width="4" height="270.5" fill="url(#gS1)"/><rect x="840" y="204" width="4" height="270.5" fill="url(#gS1)"/><rect x="595" y="690" width="77" height="271.5" fill="url(#gB5)"/><rect x="673" y="690" width="12.5" height="271.5" fill="url(#gB5)"/><rect x="848" y="690" width="8" height="271.5" fill="url(#gB5)"/><rect x="686" y="690" width="2" height="271.5" fill="url(#gS5)"/><rect x="692" y="690" width="3" height="271.5" fill="url(#gS5)"/><rect x="699" y="690" width="3" height="271.5" fill="url(#gS5)"/><rect x="706" y="690" width="4" height="271.5" fill="url(#gS5)"/><rect x="713" y="690" width="4" height="271.5" fill="url(#gS5)"/><rect x="721" y="690" width="4" height="271.5" fill="url(#gS5)"/><rect x="729" y="690" width="3" height="271.5" fill="url(#gS5)"/><rect x="736" y="690" width="3" height="271.5" fill="url(#gS5)"/><rect x="743" y="690" width="4" height="271.5" fill="url(#gS5)"/><rect x="751" y="690" width="3" height="271.5" fill="url(#gS5)"/><rect x="758" y="690" width="4" height="271.5" fill="url(#gS5)"/><rect x="766" y="690" width="3" height="271.5" fill="url(#gS5)"/><rect x="774" y="690" width="4" height="271.5" fill="url(#gS5)"/><rect x="781" y="690" width="3" height="271.5" fill="url(#gS5)"/><rect x="788" y="690" width="4" height="271.5" fill="url(#gS5)"/><rect x="796" y="690" width="3" height="271.5" fill="url(#gS5)"/><rect x="803" y="690" width="4" height="271.5" fill="url(#gS5)"/><rect x="811" y="690" width="3" height="271.5" fill="url(#gS5)"/><rect x="819" y="690" width="3" height="271.5" fill="url(#gS5)"/><rect x="825" y="690" width="4" height="271.5" fill="url(#gS5)"/><rect x="833" y="690" width="4" height="271.5" fill="url(#gS5)"/><rect x="840" y="690" width="4" height="271.5" fill="url(#gS5)"/></g><path d="M1030 66V439.24H1031V438.96H1032V440.02H1033V444.8H1034V438.95H1035V436.85H1036V437.25H1037V440.78H1038V442.21H1039V446.82H1040V437.88H1041V439.35H1042V441H1043V440.67H1044V446.15H1045V440.24H1046V440.81H1047V439.78H1048V441.22H1049V440.77H1050V441.85H1051V439.74H1052V439.13H1053V441.43H1054V440.46H1055V450.62H1056V441.85H1057V441.2H1058V440.79H1059V441.72H1060V440.41H1061V438.92H1062V441.03H1063V441.66H1064V440.09H1065V438.78H1066V439.3H1067V436.96H1068V437.72H1069V438.99H1070V440.68H1071V441.65H1072V439.7H1073V439.99H1074V442.15H1075V439.33H1076V439.54H1077V440.82H1078V438.71H1079V440.03H1080V442.13H1081V440.56H1082V441.13H1083V450.74H1084V441.57H1085V440.14H1086V438.38H1087V445.8H1088V438.89H1089V445.31H1090V438.79H1091V440.91H1092V437.81H1093V439.14H1094V442.28H1095V440.44H1096V437.81H1097V441.68H1098V438.78H1099V440.6H1100V438.45H1101V442.22H1102V441.21H1103V440.02H1104V441.48H1105V441.5H1106V439.5H1107V442.25H1108V441.6H1109V441.36H1110V440.56H1111V438.8H1112V446.57H1113V442.14H1114V442.07H1115V442.14H1116V439.49H1117V439.41H1118V440.95H1119V441.73H1120V441.05H1121V439.01H1121.8V66Z" fill="#377eb8"/><path d="M1125 66V441.98H1126V441.4H1127V439.34H1128V439.9H1129V66Z" fill="#377eb8"/><path d="M1132 66V442.2H1133V440.14H1134V441.31H1135V66Z" fill="#377eb8"/><path d="M1139 66V439.16H1140V441.96H1141V439.23H1142V442.23H1143V66Z" fill="#377eb8"/><path d="M1146 66V439.96H1147V439.17H1148V449.7H1149V442.06H1150V66Z" fill="#377eb8"/><path d="M1154 66V441.84H1155V439.46H1156V439.75H1157V440.81H1158V66Z" fill="#377eb8"/><path d="M1161 66V440.21H1162V437.79H1163V66Z" fill="#377eb8"/><path d="M1164 66V440.8H1165V66Z" fill="#377eb8"/><path d="M1169 66V440.21H1170V440.51H1171V440.58H1172V445.96H1173V66Z" fill="#377eb8"/><path d="M1176 66V445.88H1177V441.31H1178V439.87H1179V440.7H1180V66Z" fill="#377eb8"/><path d="M1184 66V439.08H1185V439.59H1186V441.48H1187V440.72H1188V66Z" fill="#377eb8"/><path d="M1191 66V441.98H1192V440.91H1193V440.54H1194V440.33H1195V66Z" fill="#377eb8"/><path d="M1199 66V440.42H1200V441.22H1201V442.09H1202V440.71H1203V66Z" fill="#377eb8"/><path d="M1206 66V441.72H1207V437.62H1208V66Z" fill="#377eb8"/><path d="M1209 66V438.35H1210V66Z" fill="#377eb8"/><path d="M1214 66V441.52H1215V439.26H1216V441.08H1217V66Z" fill="#377eb8"/><path d="M1221 66V436.56H1222V442.13H1223V440.45H1224V441.7H1225V66Z" fill="#377eb8"/><path d="M1229 66V440.25H1230V439.92H1231V439.85H1232V66Z" fill="#377eb8"/><path d="M1236 66V438.77H1237V440.29H1238V449.49H1239V438.93H1240V66Z" fill="#377eb8"/><path d="M1244 66V441.54H1245V439.08H1246V438.84H1247V66Z" fill="#377eb8"/><path d="M1251 66V439.67H1252V436.68H1253V439.63H1254V437.36H1255V66Z" fill="#377eb8"/><path d="M1258 66V439.02H1259V447.9H1260V437.23H1261V439H1262V66Z" fill="#377eb8"/><path d="M1266 66V438.94H1267V440.33H1268V440.69H1269V439.66H1270V66Z" fill="#377eb8"/><path d="M1273 66V438.02H1274V438.4H1275V439.82H1276V441.43H1277V66Z" fill="#377eb8"/><path d="M1281 66V440.5H1282V439.95H1283V444.62H1284V440.68H1285V440.41H1286V439.08H1287V440.26H1288V441.7H1289V440.52H1290V442.24H1291V66Z" fill="#377eb8"/><path d="M1291 66V440.16H1292V439.18H1293V437.74H1294V443.07H1295V437.28H1296V436.42H1297V440.35H1298V437.41H1299V437.47H1300V436.79H1301V437.32H1302V440.86H1303V437.22H1304V437.55H1305V436.01H1306V438.37H1307V437H1308V436.02H1309V436.45H1310V436.21H1311V444.36H1312V438.65H1313V439.29H1314V66Z" fill="#984ea3"/><rect x="1107" y="66" width="1" height="373" fill="#984ea3"/><rect x="1214" y="66" width="1" height="328" fill="#984ea3"/><rect x="1155" y="66" width="1" height="104" fill="#fff"/><rect x="1155" y="170" width="1" height="272" fill="#984ea3"/><rect x="1050" y="433" width="1" height="6" fill="#ff7f00"/><rect x="1058" y="434" width="1" height="6" fill="#ff7f00"/><rect x="1076" y="434" width="1" height="5" fill="#ff7f00"/><rect x="1090" y="434" width="1" height="5" fill="#ff7f00"/><rect x="1101" y="434" width="1" height="6" fill="#ff7f00"/><rect x="1107" y="419" width="1" height="9" fill="#ff7f00"/><rect x="1113" y="437" width="1" height="7" fill="#ff7f00"/><rect x="1127" y="435" width="1" height="6" fill="#ff7f00"/><rect x="1183" y="432" width="1" height="6" fill="#ff7f00"/><rect x="1229" y="429" width="1" height="6" fill="#ff7f00"/><rect x="1236" y="429" width="1" height="7" fill="#ff7f00"/><rect x="1238" y="434" width="1" height="8" fill="#ff7f00"/><rect x="1300" y="434" width="1" height="6" fill="#ff7f00"/><rect x="1307" y="426" width="1" height="9" fill="#ff7f00"/><rect x="1107" y="87" width="1" height="1" fill="#bba98e"/><rect x="1094" y="76" width="1" height="1" fill="#bba98e"/><rect x="1036" y="145" width="1" height="1" fill="#bba98e"/><rect x="1111" y="75" width="1" height="1" fill="#bba98e"/><rect x="1098" y="114" width="1" height="1" fill="#bba98e"/><rect x="1118" y="127" width="1" height="1" fill="#bba98e"/><rect x="1041" y="75" width="1" height="1" fill="#bba98e"/><rect x="1112" y="73" width="1" height="1" fill="#bba98e"/><rect x="1079" y="116" width="1" height="1" fill="#bba98e"/><rect x="1111" y="82" width="1" height="1" fill="#bba98e"/><rect x="1093" y="96" width="1" height="1" fill="#bba98e"/><rect x="1039" y="145" width="1" height="1" fill="#bba98e"/><rect x="1099" y="71" width="1" height="1" fill="#bba98e"/><rect x="1091" y="71" width="1" height="1" fill="#bba98e"/><rect x="1064" y="80" width="1" height="1" fill="#bba98e"/><rect x="1060" y="142" width="1" height="1" fill="#bba98e"/><rect x="1094" y="117" width="1" height="1" fill="#bba98e"/><rect x="1092" y="116" width="1" height="1" fill="#bba98e"/><rect x="1036" y="125" width="1" height="1" fill="#bba98e"/><rect x="1040" y="134" width="1" height="1" fill="#bba98e"/><rect x="1063" y="132" width="1" height="1" fill="#bba98e"/><rect x="1110" y="113" width="1" height="1" fill="#bba98e"/><rect x="1092" y="84" width="1" height="1" fill="#bba98e"/><rect x="1117" y="80" width="1" height="1" fill="#bba98e"/><rect x="1117" y="146" width="1" height="1" fill="#bba98e"/><rect x="1067" y="142" width="1" height="1" fill="#bba98e"/><rect x="1046" y="133" width="1" height="1" fill="#bba98e"/><rect x="1056" y="72" width="1" height="1" fill="#bba98e"/><rect x="1091" y="96" width="1" height="1" fill="#bba98e"/><rect x="1040" y="141" width="1" height="1" fill="#bba98e"/><rect x="1065" y="80" width="1" height="1" fill="#bba98e"/><rect x="1040" y="122" width="1" height="1" fill="#bba98e"/><rect x="1098" y="90" width="1" height="1" fill="#bba98e"/><rect x="1047" y="145" width="1" height="1" fill="#bba98e"/><rect x="1066" y="136" width="1" height="1" fill="#bba98e"/><rect x="1060" y="144" width="1" height="1" fill="#bba98e"/><rect x="1081" y="67" width="1" height="1" fill="#bba98e"/><rect x="1093" y="138" width="1" height="1" fill="#bba98e"/><rect x="1069" y="139" width="1" height="1" fill="#bba98e"/><rect x="1075" y="74" width="1" height="1" fill="#bba98e"/><rect x="1073" y="88" width="1" height="1" fill="#bba98e"/><rect x="1081" y="79" width="1" height="1" fill="#bba98e"/><rect x="1032" y="116" width="1" height="1" fill="#bba98e"/><rect x="1063" y="92" width="1" height="1" fill="#bba98e"/><rect x="1080" y="135" width="1" height="1" fill="#bba98e"/><rect x="1040" y="94" width="1" height="1" fill="#bba98e"/><rect x="1066" y="130" width="1" height="1" fill="#bba98e"/><rect x="1044" y="85" width="1" height="1" fill="#bba98e"/><rect x="1112" y="113" width="1" height="1" fill="#bba98e"/><rect x="1065" y="87" width="1" height="1" fill="#bba98e"/><rect x="1055" y="140" width="1" height="1" fill="#bba98e"/><rect x="1034" y="138" width="1" height="1" fill="#bba98e"/><rect x="1101" y="118" width="1" height="1" fill="#bba98e"/><rect x="1037" y="124" width="1" height="1" fill="#bba98e"/><rect x="1088" y="121" width="1" height="1" fill="#bba98e"/><rect x="1113" y="144" width="1" height="1" fill="#bba98e"/><rect x="1037" y="133" width="1" height="1" fill="#bba98e"/><rect x="1047" y="93" width="1" height="1" fill="#bba98e"/><rect x="1074" y="83" width="1" height="1" fill="#bba98e"/><rect x="1114" y="82" width="1" height="1" fill="#bba98e"/><rect x="1069" y="138" width="1" height="1" fill="#bba98e"/><rect x="1046" y="77" width="1" height="1" fill="#bba98e"/><rect x="1040" y="98" width="1" height="1" fill="#bba98e"/><rect x="1101" y="88" width="1" height="1" fill="#bba98e"/><rect x="1088" y="79" width="1" height="1" fill="#bba98e"/><rect x="1062" y="88" width="1" height="1" fill="#bba98e"/><rect x="1102" y="82" width="1" height="1" fill="#bba98e"/><rect x="1078" y="79" width="1" height="1" fill="#bba98e"/><rect x="1033" y="139" width="1" height="1" fill="#bba98e"/><rect x="1080" y="80" width="1" height="1" fill="#bba98e"/><rect x="1245" y="70" width="1" height="1" fill="#bba98e"/><rect x="1268" y="136" width="1" height="1" fill="#bba98e"/><rect x="1170" y="82" width="1" height="1" fill="#bba98e"/><rect x="1245" y="140" width="1" height="1" fill="#bba98e"/><rect x="1221" y="94" width="1" height="1" fill="#bba98e"/><rect x="1269" y="92" width="1" height="1" fill="#bba98e"/><rect x="1276" y="113" width="1" height="1" fill="#bba98e"/><rect x="1147" y="73" width="1" height="1" fill="#bba98e"/><rect x="1258" y="115" width="1" height="1" fill="#bba98e"/><rect x="1126" y="69" width="1" height="1" fill="#bba98e"/><rect x="1222" y="146" width="1" height="1" fill="#bba98e"/><rect x="1251" y="86" width="1" height="1" fill="#bba98e"/><rect x="1274" y="81" width="1" height="1" fill="#bba98e"/><rect x="1125" y="142" width="1" height="1" fill="#bba98e"/><rect x="1201" y="128" width="1" height="1" fill="#bba98e"/><rect x="1267" y="114" width="1" height="1" fill="#bba98e"/><rect x="1253" y="79" width="1" height="1" fill="#bba98e"/><rect x="1269" y="81" width="1" height="1" fill="#bba98e"/><rect x="1253" y="69" width="1" height="1" fill="#bba98e"/><rect x="1231" y="92" width="1" height="1" fill="#bba98e"/><rect x="1184" y="145" width="1" height="1" fill="#bba98e"/><rect x="1140" y="125" width="1" height="1" fill="#bba98e"/><rect x="1222" y="81" width="1" height="1" fill="#bba98e"/><rect x="1201" y="98" width="1" height="1" fill="#bba98e"/><rect x="1177" y="116" width="1" height="1" fill="#bba98e"/><rect x="160" y="756" width="115" height="3" fill="#1c73b1"/><rect x="275" y="756.2" width="239.5" height="2.6" fill="#5b98c6"/><line x1="275.4" y1="757.5" x2="514.5" y2="757.5" stroke="#1f77b4" stroke-width="3" stroke-dasharray="2.7 0.62"/><rect x="239" y="76" width="1" height="1" fill="#f39a45"/><rect x="239" y="81" width="1" height="1" fill="#f39a45"/><rect x="239" y="86" width="1" height="1" fill="#f39a45"/><rect x="674" y="76" width="1" height="1" fill="#f39a45"/><rect x="674" y="81" width="1" height="1" fill="#f39a45"/><rect x="674" y="86" width="1" height="1" fill="#f39a45"/><rect x="674" y="560" width="1" height="1" fill="#f39a45"/><rect x="674" y="566" width="1" height="1" fill="#f39a45"/><rect x="674" y="571" width="1" height="1" fill="#f39a45"/><rect x="674" y="576" width="1" height="1" fill="#f39a45"/><rect x="233" y="179" width="1" height="4" fill="#c03a83"/><rect x="668" y="179" width="1" height="4" fill="#c03a83"/><rect x="668" y="666" width="1" height="4" fill="#c03a83"/><rect x="422" y="327" width="1" height="10" fill="#2a0593"/><rect x="422" y="350" width="1" height="6" fill="#2a0593"/>
<text x="699.4" y="32" text-anchor="middle" font-size="16.667">3901496, 386 profiles, 2014-10-20 to 2021-07-22</text>
<rect x="159.5" y="65.5" width="284" height="409" fill="none" stroke="#000" stroke-width="1.111"/>
<line x1="154.64" y1="65.5" x2="159.5" y2="65.5" stroke="#000" stroke-width="1.111"/>
<text x="148.68" y="70.65" text-anchor="end" font-size="13.889">0</text>
<line x1="154.64" y1="141.5" x2="159.5" y2="141.5" stroke="#000" stroke-width="1.111"/>
<text x="148.68" y="145.93" text-anchor="end" font-size="13.889">200</text>
<line x1="154.64" y1="216.5" x2="159.5" y2="216.5" stroke="#000" stroke-width="1.111"/>
<text x="148.68" y="221.21" text-anchor="end" font-size="13.889">400</text>
<line x1="154.64" y1="291.5" x2="159.5" y2="291.5" stroke="#000" stroke-width="1.111"/>
<text x="148.68" y="296.49" text-anchor="end" font-size="13.889">600</text>
<line x1="154.64" y1="366.5" x2="159.5" y2="366.5" stroke="#000" stroke-width="1.111"/>
<text x="148.68" y="371.77" text-anchor="end" font-size="13.889">800</text>
<line x1="154.64" y1="442.5" x2="159.5" y2="442.5" stroke="#000" stroke-width="1.111"/>
<text x="148.68" y="447.05" text-anchor="end" font-size="13.889">1000</text>
<line x1="209.5" y1="474.5" x2="209.5" y2="479.36" stroke="#000" stroke-width="1.111"/>
<text x="209.2" y="495" text-anchor="middle" font-size="13.889">2016</text>
<line x1="294.5" y1="474.5" x2="294.5" y2="479.36" stroke="#000" stroke-width="1.111"/>
<text x="293.7" y="495" text-anchor="middle" font-size="13.889">2018</text>
<line x1="378.5" y1="474.5" x2="378.5" y2="479.36" stroke="#000" stroke-width="1.111"/>
<text x="378.1" y="495" text-anchor="middle" font-size="13.889">2020</text>
<text x="300.8" y="57.2" text-anchor="middle" font-size="16.667">BBP700</text>
<rect x="461.5" y="65.5" width="21" height="409.0" fill="url(#plasma)"/>
<rect x="461.5" y="65.5" width="21" height="409" fill="none" stroke="#000" stroke-width="1.111"/>
<line x1="482.5" y1="471.5" x2="487.36" y2="471.5" stroke="#000" stroke-width="1.111"/>
<text x="491.72" y="476.36" text-anchor="start" font-size="13.889">0.00</text>
<line x1="482.5" y1="423.5" x2="487.36" y2="423.5" stroke="#000" stroke-width="1.111"/>
<text x="491.72" y="428.39" text-anchor="start" font-size="13.889">0.01</text>
<line x1="482.5" y1="375.5" x2="487.36" y2="375.5" stroke="#000" stroke-width="1.111"/>
<text x="491.72" y="380.42" text-anchor="start" font-size="13.889">0.02</text>
<line x1="482.5" y1="327.5" x2="487.36" y2="327.5" stroke="#000" stroke-width="1.111"/>
<text x="491.72" y="332.45" text-anchor="start" font-size="13.889">0.03</text>
<line x1="482.5" y1="279.5" x2="487.36" y2="279.5" stroke="#000" stroke-width="1.111"/>
<text x="491.72" y="284.48" text-anchor="start" font-size="13.889">0.04</text>
<line x1="482.5" y1="231.5" x2="487.36" y2="231.5" stroke="#000" stroke-width="1.111"/>
<text x="491.72" y="236.51" text-anchor="start" font-size="13.889">0.05</text>
<line x1="482.5" y1="183.5" x2="487.36" y2="183.5" stroke="#000" stroke-width="1.111"/>
<text x="491.72" y="188.54" text-anchor="start" font-size="13.889">0.06</text>
<line x1="482.5" y1="135.5" x2="487.36" y2="135.5" stroke="#000" stroke-width="1.111"/>
<text x="491.72" y="140.57" text-anchor="start" font-size="13.889">0.07</text>
<line x1="482.5" y1="87.5" x2="487.36" y2="87.5" stroke="#000" stroke-width="1.111"/>
<text x="491.72" y="92.6" text-anchor="start" font-size="13.889">0.08</text>
<rect x="594.5" y="65.5" width="285" height="409" fill="none" stroke="#000" stroke-width="1.111"/>
<line x1="589.64" y1="65.5" x2="594.5" y2="65.5" stroke="#000" stroke-width="1.111"/>
<text x="583.68" y="70.65" text-anchor="end" font-size="13.889">0</text>
<line x1="589.64" y1="141.5" x2="594.5" y2="141.5" stroke="#000" stroke-width="1.111"/>
<text x="583.68" y="145.93" text-anchor="end" font-size="13.889">200</text>
<line x1="589.64" y1="216.5" x2="594.5" y2="216.5" stroke="#000" stroke-width="1.111"/>
<text x="583.68" y="221.21" text-anchor="end" font-size="13.889">400</text>
<line x1="589.64" y1="291.5" x2="594.5" y2="291.5" stroke="#000" stroke-width="1.111"/>
<text x="583.68" y="296.49" text-anchor="end" font-size="13.889">600</text>
<line x1="589.64" y1="366.5" x2="594.5" y2="366.5" stroke="#000" stroke-width="1.111"/>
<text x="583.68" y="371.77" text-anchor="end" font-size="13.889">800</text>
<line x1="589.64" y1="442.5" x2="594.5" y2="442.5" stroke="#000" stroke-width="1.111"/>
<text x="583.68" y="447.05" text-anchor="end" font-size="13.889">1000</text>
<line x1="644.5" y1="474.5" x2="644.5" y2="479.36" stroke="#000" stroke-width="1.111"/>
<text x="644.4" y="495" text-anchor="middle" font-size="13.889">2016</text>
<line x1="729.5" y1="474.5" x2="729.5" y2="479.36" stroke="#000" stroke-width="1.111"/>
<text x="728.9" y="495" text-anchor="middle" font-size="13.889">2018</text>
<line x1="813.5" y1="474.5" x2="813.5" y2="479.36" stroke="#000" stroke-width="1.111"/>
<text x="813.3" y="495" text-anchor="middle" font-size="13.889">2020</text>
<text x="736.3" y="57.2" text-anchor="middle" font-size="16.667">BBP700_ADJUSTED</text>
<rect x="896.5" y="65.5" width="21" height="409.0" fill="url(#plasma)"/>
<rect x="896.5" y="65.5" width="21" height="409" fill="none" stroke="#000" stroke-width="1.111"/>
<line x1="917.5" y1="471.5" x2="922.36" y2="471.5" stroke="#000" stroke-width="1.111"/>
<text x="926.72" y="476.36" text-anchor="start" font-size="13.889">0.00</text>
<line x1="917.5" y1="423.5" x2="922.36" y2="423.5" stroke="#000" stroke-width="1.111"/>
<text x="926.72" y="428.39" text-anchor="start" font-size="13.889">0.01</text>
<line x1="917.5" y1="375.5" x2="922.36" y2="375.5" stroke="#000" stroke-width="1.111"/>
<text x="926.72" y="380.42" text-anchor="start" font-size="13.889">0.02</text>
<line x1="917.5" y1="327.5" x2="922.36" y2="327.5" stroke="#000" stroke-width="1.111"/>
<text x="926.72" y="332.45" text-anchor="start" font-size="13.889">0.03</text>
<line x1="917.5" y1="279.5" x2="922.36" y2="279.5" stroke="#000" stroke-width="1.111"/>
<text x="926.72" y="284.48" text-anchor="start" font-size="13.889">0.04</text>
<line x1="917.5" y1="231.5" x2="922.36" y2="231.5" stroke="#000" stroke-width="1.111"/>
<text x="926.72" y="236.51" text-anchor="start" font-size="13.889">0.05</text>
<line x1="917.5" y1="183.5" x2="922.36" y2="183.5" stroke="#000" stroke-width="1.111"/>
<text x="926.72" y="188.54" text-anchor="start" font-size="13.889">0.06</text>
<line x1="917.5" y1="135.5" x2="922.36" y2="135.5" stroke="#000" stroke-width="1.111"/>
<text x="926.72" y="140.57" text-anchor="start" font-size="13.889">0.07</text>
<line x1="917.5" y1="87.5" x2="922.36" y2="87.5" stroke="#000" stroke-width="1.111"/>
<text x="926.72" y="92.6" text-anchor="start" font-size="13.889">0.08</text>
<rect x="1029.5" y="65.5" width="285" height="409" fill="none" stroke="#000" stroke-width="1.111"/>
<line x1="1024.64" y1="65.5" x2="1029.5" y2="65.5" stroke="#000" stroke-width="1.111"/>
<text x="1019.68" y="70.65" text-anchor="end" font-size="13.889">0</text>
<line x1="1024.64" y1="141.5" x2="1029.5" y2="141.5" stroke="#000" stroke-width="1.111"/>
<text x="1019.68" y="145.93" text-anchor="end" font-size="13.889">200</text>
<line x1="1024.64" y1="216.5" x2="1029.5" y2="216.5" stroke="#000" stroke-width="1.111"/>
<text x="1019.68" y="221.21" text-anchor="end" font-size="13.889">400</text>
<line x1="1024.64" y1="291.5" x2="1029.5" y2="291.5" stroke="#000" stroke-width="1.111"/>
<text x="1019.68" y="296.49" text-anchor="end" font-size="13.889">600</text>
<line x1="1024.64" y1="366.5" x2="1029.5" y2="366.5" stroke="#000" stroke-width="1.111"/>
<text x="1019.68" y="371.77" text-anchor="end" font-size="13.889">800</text>
<line x1="1024.64" y1="442.5" x2="1029.5" y2="442.5" stroke="#000" stroke-width="1.111"/>
<text x="1019.68" y="447.05" text-anchor="end" font-size="13.889">1000</text>
<line x1="1080.5" y1="474.5" x2="1080.5" y2="479.36" stroke="#000" stroke-width="1.111"/>
<text x="1079.55" y="495" text-anchor="middle" font-size="13.889">2016</text>
<line x1="1164.5" y1="474.5" x2="1164.5" y2="479.36" stroke="#000" stroke-width="1.111"/>
<text x="1164.05" y="495" text-anchor="middle" font-size="13.889">2018</text>
<line x1="1248.5" y1="474.5" x2="1248.5" y2="479.36" stroke="#000" stroke-width="1.111"/>
<text x="1248.45" y="495" text-anchor="middle" font-size="13.889">2020</text>
<text x="1171.7" y="57.2" text-anchor="middle" font-size="16.667">BBP700_ADJUSTED_QC</text>
<rect x="1332.5" y="429.06" width="20" height="45.74" fill="#e41a1c"/>
<rect x="1332.5" y="383.61" width="20" height="45.74" fill="#377eb8"/>
<rect x="1332.5" y="338.17" width="20" height="45.74" fill="#4daf4a"/>
<rect x="1332.5" y="292.72" width="20" height="45.74" fill="#984ea3"/>
<rect x="1332.5" y="247.28" width="20" height="45.74" fill="#ff7f00"/>
<rect x="1332.5" y="201.83" width="20" height="45.74" fill="#ffff33"/>
<rect x="1332.5" y="156.39" width="20" height="45.74" fill="#a65628"/>
<rect x="1332.5" y="110.94" width="20" height="45.74" fill="#f781bf"/>
<rect x="1332.5" y="65.5" width="20" height="45.74" fill="#999999"/>
<rect x="1332.5" y="65.5" width="20" height="409" fill="none" stroke="#000" stroke-width="1.111"/>
<line x1="1352.5" y1="474.5" x2="1357.36" y2="474.5" stroke="#000" stroke-width="1.111"/>
<text x="1363.02" y="479.6" text-anchor="start" font-size="13.889">0</text>
<line x1="1352.5" y1="423.5" x2="1357.36" y2="423.5" stroke="#000" stroke-width="1.111"/>
<text x="1363.02" y="428.47" text-anchor="start" font-size="13.889">1</text>
<line x1="1352.5" y1="372.5" x2="1357.36" y2="372.5" stroke="#000" stroke-width="1.111"/>
<text x="1363.02" y="377.35" text-anchor="start" font-size="13.889">2</text>
<line x1="1352.5" y1="321.5" x2="1357.36" y2="321.5" stroke="#000" stroke-width="1.111"/>
<text x="1363.02" y="326.22" text-anchor="start" font-size="13.889">3</text>
<line x1="1352.5" y1="270.5" x2="1357.36" y2="270.5" stroke="#000" stroke-width="1.111"/>
<text x="1363.02" y="275.1" text-anchor="start" font-size="13.889">4</text>
<line x1="1352.5" y1="219.5" x2="1357.36" y2="219.5" stroke="#000" stroke-width="1.111"/>
<text x="1363.02" y="223.97" text-anchor="start" font-size="13.889">5</text>
<line x1="1352.5" y1="167.5" x2="1357.36" y2="167.5" stroke="#000" stroke-width="1.111"/>
<text x="1363.02" y="172.85" text-anchor="start" font-size="13.889">6</text>
<line x1="1352.5" y1="116.5" x2="1357.36" y2="116.5" stroke="#000" stroke-width="1.111"/>
<text x="1363.02" y="121.72" text-anchor="start" font-size="13.889">7</text>
<line x1="1352.5" y1="65.5" x2="1357.36" y2="65.5" stroke="#000" stroke-width="1.111"/>
<text x="1363.02" y="70.6" text-anchor="start" font-size="13.889">8</text>
<rect x="159.5" y="552.5" width="355" height="409" fill="none" stroke="#000" stroke-width="1.111"/>
<line x1="154.64" y1="552.5" x2="159.5" y2="552.5" stroke="#000" stroke-width="1.111"/>
<text x="148.68" y="557.6" text-anchor="end" font-size="13.889">Delayed Mode</text>
<line x1="154.64" y1="757.5" x2="159.5" y2="757.5" stroke="#000" stroke-width="1.111"/>
<text x="148.68" y="762.1" text-anchor="end" font-size="13.889">Real Time Adjusted</text>
<line x1="154.64" y1="961.5" x2="159.5" y2="961.5" stroke="#000" stroke-width="1.111"/>
<text x="148.68" y="966.6" text-anchor="end" font-size="13.889">Real Time</text>
<line x1="169.5" y1="961.5" x2="169.5" y2="966.36" stroke="#000" stroke-width="1.111"/>
<text x="169.3" y="982" text-anchor="middle" font-size="13.889">2015</text>
<line x1="222.5" y1="961.5" x2="222.5" y2="966.36" stroke="#000" stroke-width="1.111"/>
<text x="221.9" y="982" text-anchor="middle" font-size="13.889">2016</text>
<line x1="275.5" y1="961.5" x2="275.5" y2="966.36" stroke="#000" stroke-width="1.111"/>
<text x="274.7" y="982" text-anchor="middle" font-size="13.889">2017</text>
<line x1="327.5" y1="961.5" x2="327.5" y2="966.36" stroke="#000" stroke-width="1.111"/>
<text x="327.3" y="982" text-anchor="middle" font-size="13.889">2018</text>
<line x1="380.5" y1="961.5" x2="380.5" y2="966.36" stroke="#000" stroke-width="1.111"/>
<text x="379.9" y="982" text-anchor="middle" font-size="13.889">2019</text>
<line x1="433.5" y1="961.5" x2="433.5" y2="966.36" stroke="#000" stroke-width="1.111"/>
<text x="432.7" y="982" text-anchor="middle" font-size="13.889">2020</text>
<line x1="485.5" y1="961.5" x2="485.5" y2="966.36" stroke="#000" stroke-width="1.111"/>
<text x="485.3" y="982" text-anchor="middle" font-size="13.889">2021</text>
<text x="333.7" y="525.9" text-anchor="middle" font-size="16.667">Mode. Blue=D, Red=RT,</text>
<text x="336.3" y="543.9" text-anchor="middle" font-size="16.667">Gray=Real Time Adjusted</text>
<rect x="594.5" y="552.5" width="285" height="409" fill="none" stroke="#000" stroke-width="1.111"/>
<line x1="589.64" y1="552.5" x2="594.5" y2="552.5" stroke="#000" stroke-width="1.111"/>
<text x="583.68" y="557.6" text-anchor="end" font-size="13.889">0</text>
<line x1="589.64" y1="627.5" x2="594.5" y2="627.5" stroke="#000" stroke-width="1.111"/>
<text x="583.68" y="632.8" text-anchor="end" font-size="13.889">200</text>
<line x1="589.64" y1="703.5" x2="594.5" y2="703.5" stroke="#000" stroke-width="1.111"/>
<text x="583.68" y="708" text-anchor="end" font-size="13.889">400</text>
<line x1="589.64" y1="778.5" x2="594.5" y2="778.5" stroke="#000" stroke-width="1.111"/>
<text x="583.68" y="783.2" text-anchor="end" font-size="13.889">600</text>
<line x1="589.64" y1="853.5" x2="594.5" y2="853.5" stroke="#000" stroke-width="1.111"/>
<text x="583.68" y="858.4" text-anchor="end" font-size="13.889">800</text>
<line x1="589.64" y1="928.5" x2="594.5" y2="928.5" stroke="#000" stroke-width="1.111"/>
<text x="583.68" y="933.6" text-anchor="end" font-size="13.889">1000</text>
<line x1="644.5" y1="961.5" x2="644.5" y2="966.36" stroke="#000" stroke-width="1.111"/>
<text x="644.4" y="982" text-anchor="middle" font-size="13.889">2016</text>
<line x1="729.5" y1="961.5" x2="729.5" y2="966.36" stroke="#000" stroke-width="1.111"/>
<text x="728.9" y="982" text-anchor="middle" font-size="13.889">2018</text>
<line x1="813.5" y1="961.5" x2="813.5" y2="966.36" stroke="#000" stroke-width="1.111"/>
<text x="813.3" y="982" text-anchor="middle" font-size="13.889">2020</text>
<text x="736.3" y="524.9" text-anchor="middle" font-size="16.667">BBP700_ADJUSTED_BGCArgoPlus</text>
<text x="736.3" y="543.9" text-anchor="middle" font-size="16.667">Processing: F_</text>
<rect x="896.5" y="552.5" width="21" height="409.0" fill="url(#plasma)"/>
<rect x="896.5" y="552.5" width="21" height="409" fill="none" stroke="#000" stroke-width="1.111"/>
<line x1="917.5" y1="910.5" x2="922.36" y2="910.5" stroke="#000" stroke-width="1.111"/>
<text x="927.22" y="915.6" text-anchor="start" font-size="13.889">0.005</text>
<line x1="917.5" y1="859.5" x2="922.36" y2="859.5" stroke="#000" stroke-width="1.111"/>
<text x="927.22" y="864.43" text-anchor="start" font-size="13.889">0.010</text>
<line x1="917.5" y1="808.5" x2="922.36" y2="808.5" stroke="#000" stroke-width="1.111"/>
<text x="927.22" y="813.26" text-anchor="start" font-size="13.889">0.015</text>
<line x1="917.5" y1="757.5" x2="922.36" y2="757.5" stroke="#000" stroke-width="1.111"/>
<text x="927.22" y="762.09" text-anchor="start" font-size="13.889">0.020</text>
<line x1="917.5" y1="706.5" x2="922.36" y2="706.5" stroke="#000" stroke-width="1.111"/>
<text x="927.22" y="710.92" text-anchor="start" font-size="13.889">0.025</text>
<line x1="917.5" y1="654.5" x2="922.36" y2="654.5" stroke="#000" stroke-width="1.111"/>
<text x="927.22" y="659.75" text-anchor="start" font-size="13.889">0.030</text>
<line x1="917.5" y1="603.5" x2="922.36" y2="603.5" stroke="#000" stroke-width="1.111"/>
<text x="927.22" y="608.58" text-anchor="start" font-size="13.889">0.035</text>
<rect x="1029.5" y="552.5" width="356" height="409" fill="none" stroke="#000" stroke-width="1.111"/>
<line x1="1024.64" y1="552.5" x2="1029.5" y2="552.5" stroke="#000" stroke-width="1.111"/>
<text x="1019.68" y="557.6" text-anchor="end" font-size="13.889">0</text>
<line x1="1024.64" y1="627.5" x2="1029.5" y2="627.5" stroke="#000" stroke-width="1.111"/>
<text x="1019.68" y="632.8" text-anchor="end" font-size="13.889">200</text>
<line x1="1024.64" y1="703.5" x2="1029.5" y2="703.5" stroke="#000" stroke-width="1.111"/>
<text x="1019.68" y="708" text-anchor="end" font-size="13.889">400</text>
<line x1="1024.64" y1="778.5" x2="1029.5" y2="778.5" stroke="#000" stroke-width="1.111"/>
<text x="1019.68" y="783.2" text-anchor="end" font-size="13.889">600</text>
<line x1="1024.64" y1="853.5" x2="1029.5" y2="853.5" stroke="#000" stroke-width="1.111"/>
<text x="1019.68" y="858.4" text-anchor="end" font-size="13.889">800</text>
<line x1="1024.64" y1="928.5" x2="1029.5" y2="928.5" stroke="#000" stroke-width="1.111"/>
<text x="1019.68" y="933.6" text-anchor="end" font-size="13.889">1000</text>
<line x1="1092.5" y1="961.5" x2="1092.5" y2="966.36" stroke="#000" stroke-width="1.111"/>
<text x="1092.2" y="982" text-anchor="middle" font-size="13.889">2016</text>
<line x1="1198.5" y1="961.5" x2="1198.5" y2="966.36" stroke="#000" stroke-width="1.111"/>
<text x="1197.8" y="982" text-anchor="middle" font-size="13.889">2018</text>
<line x1="1303.5" y1="961.5" x2="1303.5" y2="966.36" stroke="#000" stroke-width="1.111"/>
<text x="1303.2" y="982" text-anchor="middle" font-size="13.889">2020</text>
<text x="1207.6" y="543.9" text-anchor="middle" font-size="16.667">Outliers Removed</text>
</svg></body></html>
